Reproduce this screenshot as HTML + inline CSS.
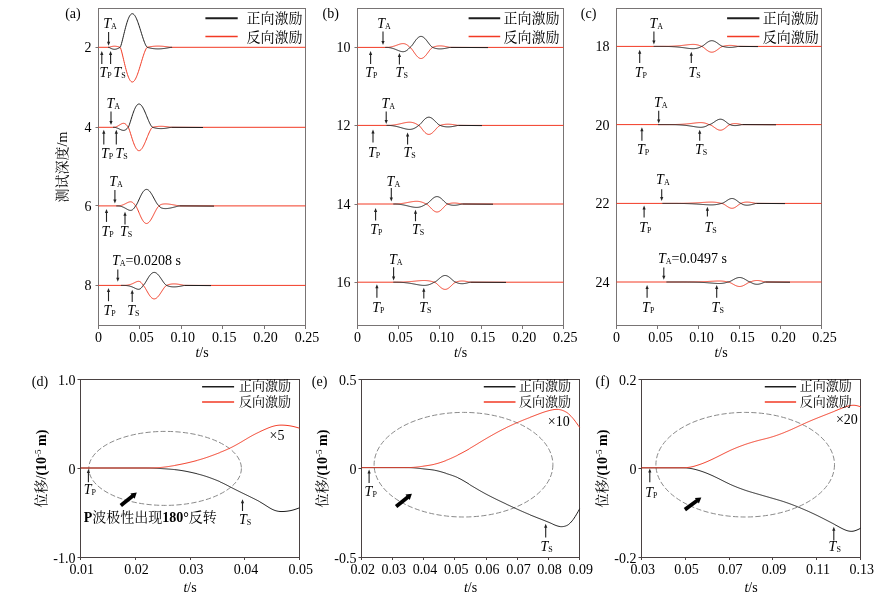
<!DOCTYPE html>
<html><head><meta charset="utf-8"><style>html,body{margin:0;padding:0;background:#fff;}svg{display:block;} svg{will-change:transform;opacity:0.999;}</style></head>
<body>
<svg width="886" height="603" viewBox="0 0 886 603">
<rect width="886" height="603" fill="#fff"/>
<text x="65.2" y="18.2" font-size="14" text-anchor="start" font-family="'Liberation Serif', 'Times New Roman', serif" >(a)</text>
<rect x="98.5" y="8.5" width="207" height="317" fill="none" stroke="#787474" stroke-width="1"/>
<line x1="98.5" y1="325.5" x2="98.5" y2="329" stroke="#787474" stroke-width="1" />
<text x="98.5" y="341.6" font-size="14" text-anchor="middle" font-family="'Liberation Serif', 'Times New Roman', serif" >0</text>
<line x1="139.5" y1="325.5" x2="139.5" y2="329" stroke="#787474" stroke-width="1" />
<text x="141.4" y="341.6" font-size="14" text-anchor="middle" font-family="'Liberation Serif', 'Times New Roman', serif" >0.05</text>
<line x1="181.5" y1="325.5" x2="181.5" y2="329" stroke="#787474" stroke-width="1" />
<text x="182.8" y="341.6" font-size="14" text-anchor="middle" font-family="'Liberation Serif', 'Times New Roman', serif" >0.10</text>
<line x1="222.5" y1="325.5" x2="222.5" y2="329" stroke="#787474" stroke-width="1" />
<text x="224.2" y="341.6" font-size="14" text-anchor="middle" font-family="'Liberation Serif', 'Times New Roman', serif" >0.15</text>
<line x1="264.5" y1="325.5" x2="264.5" y2="329" stroke="#787474" stroke-width="1" />
<text x="265.6" y="341.6" font-size="14" text-anchor="middle" font-family="'Liberation Serif', 'Times New Roman', serif" >0.20</text>
<line x1="305.5" y1="325.5" x2="305.5" y2="329" stroke="#787474" stroke-width="1" />
<text x="307" y="341.6" font-size="14" text-anchor="middle" font-family="'Liberation Serif', 'Times New Roman', serif" >0.25</text>
<text x="202" y="356.6" font-size="14" font-family="'Liberation Serif', 'Times New Roman', serif" text-anchor="middle"><tspan font-style="italic">t</tspan>/s</text>
<line x1="95.5" y1="47.5" x2="98.5" y2="47.5" stroke="#787474" stroke-width="1" />
<text x="91.5" y="52.3" font-size="14" text-anchor="end" font-family="'Liberation Serif', 'Times New Roman', serif" >2</text>
<line x1="95.5" y1="127.5" x2="98.5" y2="127.5" stroke="#787474" stroke-width="1" />
<text x="91.5" y="132.3" font-size="14" text-anchor="end" font-family="'Liberation Serif', 'Times New Roman', serif" >4</text>
<line x1="95.5" y1="205.5" x2="98.5" y2="205.5" stroke="#787474" stroke-width="1" />
<text x="91.5" y="210.9" font-size="14" text-anchor="end" font-family="'Liberation Serif', 'Times New Roman', serif" >6</text>
<line x1="95.5" y1="285.5" x2="98.5" y2="285.5" stroke="#787474" stroke-width="1" />
<text x="91.5" y="290.4" font-size="14" text-anchor="end" font-family="'Liberation Serif', 'Times New Roman', serif" >8</text>
<polyline points="98.5,47.3 108,47.3 108,47.3 108.5,47.3 109,47.3 109.5,47.13 110,46.98 110.5,46.83 111,46.69 111.5,46.57 112,46.46 112.5,46.37 113,46.3 113.5,46.24 114,46.21 114.5,46.2 115,46.21 115.5,46.24 116,46.29 116.5,46.36 117,46.45 117.5,46.56 118,46.68 118.5,46.81 119,46.95 119.5,47.09 120,47.24 120.5,47.88 121,49.35 121.5,51.1 122,53.02 122.5,55.05 123,57.14 123.5,59.27 124,61.39 124.5,63.49 125,65.54 125.5,67.53 126,69.44 126.5,71.25 127,72.95 127.5,74.53 128,75.97 128.5,77.27 129,78.42 129.5,79.42 130,80.26 130.5,80.94 131,81.45 131.5,81.79 132,81.97 132.5,81.99 133,81.84 133.5,81.54 134,81.09 134.5,80.49 135,79.75 135.5,78.87 136,77.88 136.5,76.76 137,75.55 137.5,74.23 138,72.83 138.5,71.36 139,69.82 139.5,68.23 140,66.6 140.5,64.95 141,63.29 141.5,61.62 142,59.96 142.5,58.34 143,56.75 143.5,55.22 144,53.75 144.5,52.37 145,51.09 145.5,49.93 146,48.92 146.5,48.08 147,47.48 147.5,47.24 148,47.13 148.5,47.02 149,46.93 149.5,46.84 150,46.75 150.5,46.67 151,46.6 151.5,46.53 152,46.47 152.5,46.41 153,46.35 153.5,46.31 154,46.26 154.5,46.22 155,46.19 155.5,46.16 156,46.14 156.5,46.12 157,46.11 157.5,46.1 158,46.1 158.5,46.1 159,46.11 159.5,46.12 160,46.14 160.5,46.16 161,46.18 161.5,46.21 162,46.25 162.5,46.28 163,46.33 163.5,46.37 164,46.42 164.5,46.47 165,46.52 165.5,46.58 166,46.64 166.5,46.7 167,46.76 167.5,46.82 168,46.89 168.5,46.96 169,47.02 169.5,47.09 170,47.16 170.5,47.23 171,47.3 171.5,47.3 172,47.3 305.5,47.3" fill="none" stroke="#f23a24" stroke-width="1.0" stroke-linejoin="round" />
<polyline points="108,47.3 108,47.3 108.5,47.3 109,47.3 109.5,47.6 110,47.89 110.5,48.16 111,48.41 111.5,48.63 112,48.83 112.5,48.99 113,49.13 113.5,49.22 114,49.28 114.5,49.3 115,49.28 115.5,49.22 116,49.13 116.5,49 117,48.84 117.5,48.65 118,48.43 118.5,48.2 119,47.95 119.5,47.68 120,47.41 120.5,46.74 121,45.32 121.5,43.62 122,41.76 122.5,39.8 123,37.77 123.5,35.71 124,33.66 124.5,31.62 125,29.63 125.5,27.71 126,25.86 126.5,24.11 127,22.46 127.5,20.94 128,19.54 128.5,18.28 129,17.16 129.5,16.2 130,15.38 130.5,14.73 131,14.24 131.5,13.9 132,13.73 132.5,13.71 133,13.85 133.5,14.14 134,14.58 134.5,15.16 135,15.88 135.5,16.73 136,17.69 136.5,18.77 137,19.95 137.5,21.22 138,22.58 138.5,24.01 139,25.5 139.5,27.03 140,28.61 140.5,30.21 141,31.82 141.5,33.44 142,35.04 142.5,36.61 143,38.15 143.5,39.63 144,41.05 144.5,42.39 145,43.63 145.5,44.75 146,45.73 146.5,46.54 147,47.13 147.5,47.38 148,47.53 148.5,47.67 149,47.8 149.5,47.92 150,48.03 150.5,48.13 151,48.23 151.5,48.32 152,48.41 152.5,48.49 153,48.56 153.5,48.63 154,48.68 154.5,48.73 155,48.78 155.5,48.82 156,48.85 156.5,48.87 157,48.89 157.5,48.9 158,48.9 158.5,48.9 159,48.89 159.5,48.87 160,48.85 160.5,48.82 161,48.79 161.5,48.75 162,48.7 162.5,48.65 163,48.6 163.5,48.54 164,48.48 164.5,48.41 165,48.34 165.5,48.26 166,48.19 166.5,48.1 167,48.02 167.5,47.94 168,47.85 168.5,47.76 169,47.67 169.5,47.58 170,47.48 170.5,47.39 171,47.3 171.5,47.3 172,47.3 172,47.5" fill="none" stroke="#1e1e1e" stroke-width="1.0" stroke-linejoin="round" />
<polyline points="98.5,127.3 113,127.3 113,127.3 113.5,127.3 114,127.3 114.5,127.26 115,127.17 115.5,127.04 116,126.87 116.5,126.67 117,126.45 117.5,126.19 118,125.92 118.5,125.62 119,125.31 119.5,125 120,124.69 120.5,124.39 121,124.1 121.5,123.84 122,123.62 122.5,123.45 123,123.34 123.5,123.3 124,123.34 124.5,123.47 125,123.7 125.5,124.03 126,124.45 126.5,124.98 127,125.58 127.5,126.26 128,127 128.5,127.78 129,128.95 129.5,130.34 130,131.85 130.5,133.43 131,135.03 131.5,136.64 132,138.23 132.5,139.78 133,141.27 133.5,142.69 134,144.01 134.5,145.24 135,146.36 135.5,147.37 136,148.24 136.5,148.99 137,149.61 137.5,150.09 138,150.43 138.5,150.63 139,150.7 139.5,150.63 140,150.44 140.5,150.11 141,149.67 141.5,149.11 142,148.44 142.5,147.67 143,146.81 143.5,145.86 144,144.84 144.5,143.76 145,142.63 145.5,141.45 146,140.24 146.5,139.01 147,137.77 147.5,136.53 148,135.31 148.5,134.12 149,132.96 149.5,131.86 150,130.83 150.5,129.87 151,129.02 151.5,128.28 152,127.69 152.5,127.33 153,127.19 153.5,127.08 154,126.98 154.5,126.89 155,126.8 155.5,126.72 156,126.65 156.5,126.58 157,126.52 157.5,126.47 158,126.43 158.5,126.39 159,126.36 159.5,126.33 160,126.31 160.5,126.3 161,126.3 161.5,126.3 162,126.31 162.5,126.33 163,126.35 163.5,126.38 164,126.42 164.5,126.46 165,126.5 165.5,126.55 166,126.61 166.5,126.66 167,126.73 167.5,126.79 168,126.86 168.5,126.93 169,127 169.5,127.07 170,127.15 170.5,127.22 171,127.3 171.5,127.3 172,127.3 305.5,127.3" fill="none" stroke="#f23a24" stroke-width="1.0" stroke-linejoin="round" />
<polyline points="113,127.3 113,127.3 113.5,127.3 114,127.3 114.5,127.33 115,127.4 115.5,127.5 116,127.63 116.5,127.79 117,127.96 117.5,128.16 118,128.37 118.5,128.6 119,128.84 119.5,129.08 120,129.32 120.5,129.56 121,129.78 121.5,129.98 122,130.15 122.5,130.28 123,130.37 123.5,130.4 124,130.37 124.5,130.27 125,130.09 125.5,129.84 126,129.51 126.5,129.1 127,128.63 127.5,128.1 128,127.54 128.5,126.83 129,125.65 129.5,124.27 130,122.77 130.5,121.2 131,119.6 131.5,118 132,116.41 132.5,114.87 133,113.39 133.5,111.98 134,110.66 134.5,109.43 135,108.32 135.5,107.32 136,106.45 136.5,105.7 137,105.09 137.5,104.61 138,104.27 138.5,104.07 139,104 139.5,104.07 140,104.26 140.5,104.59 141,105.03 141.5,105.59 142,106.25 142.5,107.02 143,107.88 143.5,108.82 144,109.83 144.5,110.91 145,112.04 145.5,113.21 146,114.42 146.5,115.64 147,116.88 147.5,118.11 148,119.32 148.5,120.51 149,121.66 149.5,122.76 150,123.79 150.5,124.74 151,125.59 151.5,126.32 152,126.91 152.5,127.27 153,127.44 153.5,127.58 154,127.71 154.5,127.83 155,127.94 155.5,128.05 156,128.14 156.5,128.23 157,128.31 157.5,128.38 158,128.44 158.5,128.49 159,128.53 159.5,128.56 160,128.58 160.5,128.6 161,128.6 161.5,128.6 162,128.58 162.5,128.56 163,128.53 163.5,128.49 164,128.45 164.5,128.4 165,128.34 165.5,128.27 166,128.2 166.5,128.13 167,128.05 167.5,127.96 168,127.87 168.5,127.78 169,127.69 169.5,127.59 170,127.5 170.5,127.4 171,127.3 171.5,127.3 172,127.3 203,127.5" fill="none" stroke="#1e1e1e" stroke-width="1.0" stroke-linejoin="round" />
<polyline points="98.5,205.9 116.3,205.9 116.3,205.9 116.8,205.9 117.3,205.9 117.8,205.89 118.3,205.87 118.8,205.84 119.3,205.78 119.8,205.71 120.3,205.62 120.8,205.52 121.3,205.39 121.8,205.25 122.3,205.08 122.8,204.9 123.3,204.71 123.8,204.5 124.3,204.27 124.8,204.03 125.3,203.78 125.8,203.53 126.3,203.27 126.8,203.01 127.3,202.76 127.8,202.53 128.3,202.31 128.8,202.12 129.3,201.97 129.8,201.86 130.3,201.81 130.8,201.81 131.3,201.89 131.8,202.04 132.3,202.28 132.8,202.61 133.3,203.02 133.8,203.52 134.3,204.1 134.8,204.75 135.3,205.46 135.8,206.06 136.3,206.77 136.8,207.69 137.3,208.72 137.8,209.83 138.3,210.98 138.8,212.16 139.3,213.35 139.8,214.52 140.3,215.67 140.8,216.77 141.3,217.82 141.8,218.8 142.3,219.71 142.8,220.53 143.3,221.27 143.8,221.9 144.3,222.44 144.8,222.86 145.3,223.18 145.8,223.39 146.3,223.49 146.8,223.48 147.3,223.36 147.8,223.14 148.3,222.81 148.8,222.39 149.3,221.88 149.8,221.28 150.3,220.6 150.8,219.85 151.3,219.03 151.8,218.17 152.3,217.25 152.8,216.31 153.3,215.33 153.8,214.34 154.3,213.35 154.8,212.36 155.3,211.39 155.8,210.44 156.3,209.54 156.8,208.69 157.3,207.91 157.8,207.21 158.3,206.62 158.8,206.15 159.3,205.9 159.8,205.2 160.3,204.87 160.8,204.63 161.3,204.45 161.8,204.3 162.3,204.18 162.8,204.09 163.3,204.02 163.8,203.97 164.3,203.93 164.8,203.91 165.3,203.9 165.8,203.9 166.3,203.92 166.8,203.94 167.3,203.97 167.8,204.01 168.3,204.06 168.8,204.12 169.3,204.18 169.8,204.24 170.3,204.31 170.8,204.39 171.3,204.47 171.8,204.55 172.3,204.64 172.8,204.72 173.3,204.81 173.8,204.91 174.3,205 174.8,205.09 175.3,205.19 175.8,205.28 176.3,205.38 176.8,205.48 177.3,205.57 177.8,205.67 178.3,205.77 178.8,205.86 179.3,205.9 179.8,205.9 305.5,205.9" fill="none" stroke="#f23a24" stroke-width="1.0" stroke-linejoin="round" />
<polyline points="116.3,205.9 116.3,205.9 116.8,205.9 117.3,205.9 117.8,205.91 118.3,205.93 118.8,205.97 119.3,206.03 119.8,206.11 120.3,206.2 120.8,206.32 121.3,206.46 121.8,206.62 122.3,206.8 122.8,206.99 123.3,207.21 123.8,207.44 124.3,207.69 124.8,207.95 125.3,208.22 125.8,208.5 126.3,208.79 126.8,209.07 127.3,209.34 127.8,209.6 128.3,209.84 128.8,210.05 129.3,210.22 129.8,210.33 130.3,210.39 130.8,210.39 131.3,210.3 131.8,210.13 132.3,209.87 132.8,209.52 133.3,209.06 133.8,208.51 134.3,207.88 134.8,207.16 135.3,206.39 135.8,205.75 136.3,205.08 136.8,204.23 137.3,203.26 137.8,202.22 138.3,201.14 138.8,200.03 139.3,198.92 139.8,197.82 140.3,196.74 140.8,195.71 141.3,194.72 141.8,193.8 142.3,192.95 142.8,192.18 143.3,191.49 143.8,190.9 144.3,190.4 144.8,190 145.3,189.7 145.8,189.5 146.3,189.41 146.8,189.42 147.3,189.53 147.8,189.74 148.3,190.04 148.8,190.44 149.3,190.92 149.8,191.49 150.3,192.12 150.8,192.83 151.3,193.59 151.8,194.4 152.3,195.26 152.8,196.14 153.3,197.06 153.8,197.99 154.3,198.92 154.8,199.84 155.3,200.76 155.8,201.64 156.3,202.49 156.8,203.28 157.3,204.01 157.8,204.67 158.3,205.23 158.8,205.66 159.3,205.9 159.8,206.85 160.3,207.29 160.8,207.61 161.3,207.86 161.8,208.06 162.3,208.22 162.8,208.34 163.3,208.44 163.8,208.51 164.3,208.56 164.8,208.59 165.3,208.6 165.8,208.6 166.3,208.58 166.8,208.54 167.3,208.5 167.8,208.45 168.3,208.38 168.8,208.31 169.3,208.23 169.8,208.14 170.3,208.04 170.8,207.94 171.3,207.83 171.8,207.72 172.3,207.61 172.8,207.49 173.3,207.37 173.8,207.24 174.3,207.12 174.8,206.99 175.3,206.86 175.8,206.73 176.3,206.6 176.8,206.47 177.3,206.34 177.8,206.21 178.3,206.08 178.8,205.95 179.3,205.9 179.8,205.9 214,206.1" fill="none" stroke="#1e1e1e" stroke-width="1.0" stroke-linejoin="round" />
<polyline points="98.5,285.4 121,285.4 121,285.4 121.5,285.4 122,285.4 122.5,285.4 123,285.4 123.5,285.39 124,285.38 124.5,285.37 125,285.35 125.5,285.32 126,285.28 126.5,285.23 127,285.18 127.5,285.11 128,285.03 128.5,284.93 129,284.83 129.5,284.71 130,284.57 130.5,284.42 131,284.25 131.5,284.07 132,283.87 132.5,283.66 133,283.43 133.5,283.2 134,282.95 134.5,282.7 135,282.45 135.5,282.21 136,281.98 136.5,281.76 137,281.58 137.5,281.43 138,281.33 138.5,281.3 139,281.34 139.5,281.46 140,281.68 140.5,282.01 141,282.45 141.5,283 142,283.65 142.5,284.4 143,285.23 143.5,285.68 144,286.24 144.5,286.93 145,287.71 145.5,288.54 146,289.4 146.5,290.29 147,291.18 147.5,292.06 148,292.92 148.5,293.76 149,294.55 149.5,295.3 150,295.99 150.5,296.62 151,297.18 151.5,297.67 152,298.08 152.5,298.41 153,298.66 153.5,298.82 154,298.89 154.5,298.88 155,298.79 155.5,298.62 156,298.36 156.5,298.04 157,297.63 157.5,297.16 158,296.63 158.5,296.05 159,295.41 159.5,294.73 160,294.02 160.5,293.28 161,292.51 161.5,291.74 162,290.96 162.5,290.19 163,289.44 163.5,288.71 164,288.01 164.5,287.36 165,286.76 165.5,286.24 166,285.81 166.5,285.49 167,285.25 167.5,285.02 168,284.83 168.5,284.66 169,284.52 169.5,284.4 170,284.29 170.5,284.19 171,284.11 171.5,284.04 172,283.99 172.5,283.95 173,283.92 173.5,283.91 174,283.9 174.5,283.91 175,283.92 175.5,283.95 176,283.98 176.5,284.02 177,284.07 177.5,284.13 178,284.2 178.5,284.27 179,284.35 179.5,284.43 180,284.52 180.5,284.61 181,284.7 181.5,284.8 182,284.9 182.5,285.01 183,285.11 183.5,285.21 184,285.32 184.5,285.4 185,285.4 305.5,285.4" fill="none" stroke="#f23a24" stroke-width="1.0" stroke-linejoin="round" />
<polyline points="121,285.4 121,285.4 121.5,285.4 122,285.4 122.5,285.4 123,285.4 123.5,285.41 124,285.42 124.5,285.43 125,285.45 125.5,285.48 126,285.51 126.5,285.56 127,285.61 127.5,285.68 128,285.75 128.5,285.84 129,285.94 129.5,286.06 130,286.19 130.5,286.34 131,286.49 131.5,286.67 132,286.86 132.5,287.06 133,287.27 133.5,287.5 134,287.73 134.5,287.97 135,288.2 135.5,288.44 136,288.66 136.5,288.86 137,289.04 137.5,289.18 138,289.27 138.5,289.3 139,289.26 139.5,289.14 140,288.93 140.5,288.62 141,288.21 141.5,287.69 142,287.06 142.5,286.35 143,285.56 143.5,285.13 144,284.59 144.5,283.92 145,283.18 145.5,282.38 146,281.55 146.5,280.69 147,279.84 147.5,278.99 148,278.15 148.5,277.35 149,276.59 149.5,275.87 150,275.2 150.5,274.59 151,274.05 151.5,273.58 152,273.19 152.5,272.87 153,272.64 153.5,272.48 154,272.41 154.5,272.41 155,272.5 155.5,272.67 156,272.92 156.5,273.23 157,273.62 157.5,274.07 158,274.58 158.5,275.15 159,275.76 159.5,276.41 160,277.1 160.5,277.82 161,278.55 161.5,279.29 162,280.04 162.5,280.78 163,281.51 163.5,282.22 164,282.89 164.5,283.51 165,284.09 165.5,284.59 166,285.01 166.5,285.31 167,285.55 167.5,285.78 168,285.97 168.5,286.14 169,286.28 169.5,286.4 170,286.51 170.5,286.61 171,286.69 171.5,286.76 172,286.81 172.5,286.85 173,286.88 173.5,286.89 174,286.9 174.5,286.89 175,286.88 175.5,286.85 176,286.82 176.5,286.78 177,286.73 177.5,286.67 178,286.6 178.5,286.53 179,286.45 179.5,286.37 180,286.28 180.5,286.19 181,286.1 181.5,286 182,285.9 182.5,285.79 183,285.69 183.5,285.59 184,285.48 184.5,285.4 185,285.4 211,285.6" fill="none" stroke="#1e1e1e" stroke-width="1.0" stroke-linejoin="round" />
<text x="103.2" y="27.5" font-size="14" font-family="'Liberation Serif', 'Times New Roman', serif" text-anchor="start"><tspan font-style="italic">T</tspan><tspan font-size="8" dy="1">A</tspan><tspan dy="-1"></tspan></text>
<line x1="108.6" y1="32.1" x2="108.6" y2="42.6" stroke="#222" stroke-width="1.1" />
<polygon points="108.6,45.8 107,41.8 110.2,41.8" fill="#222"/>
<line x1="101.8" y1="64" x2="101.8" y2="54.2" stroke="#222" stroke-width="1.1" />
<polygon points="101.8,51 100.2,55 103.4,55" fill="#222"/>
<text x="99.5" y="76.7" font-size="14" font-family="'Liberation Serif', 'Times New Roman', serif" text-anchor="start"><tspan font-style="italic">T</tspan><tspan font-size="8" dy="1">P</tspan><tspan dy="-1"></tspan></text>
<line x1="110.6" y1="64" x2="110.6" y2="54.2" stroke="#222" stroke-width="1.1" />
<polygon points="110.6,51 109,55 112.2,55" fill="#222"/>
<text x="113.5" y="76.7" font-size="14" font-family="'Liberation Serif', 'Times New Roman', serif" text-anchor="start"><tspan font-style="italic">T</tspan><tspan font-size="8" dy="1">S</tspan><tspan dy="-1"></tspan></text>
<text x="106.5" y="107.5" font-size="14" font-family="'Liberation Serif', 'Times New Roman', serif" text-anchor="start"><tspan font-style="italic">T</tspan><tspan font-size="8" dy="1">A</tspan><tspan dy="-1"></tspan></text>
<line x1="111" y1="111.4" x2="111" y2="121.8" stroke="#222" stroke-width="1.1" />
<polygon points="111,125 109.4,121 112.6,121" fill="#222"/>
<line x1="103.8" y1="144.6" x2="103.8" y2="132.9" stroke="#222" stroke-width="1.1" />
<polygon points="103.8,129.7 102.2,133.7 105.4,133.7" fill="#222"/>
<text x="101" y="157.7" font-size="14" font-family="'Liberation Serif', 'Times New Roman', serif" text-anchor="start"><tspan font-style="italic">T</tspan><tspan font-size="8" dy="1">P</tspan><tspan dy="-1"></tspan></text>
<line x1="116.3" y1="144.6" x2="116.3" y2="132.9" stroke="#222" stroke-width="1.1" />
<polygon points="116.3,129.7 114.7,133.7 117.9,133.7" fill="#222"/>
<text x="115.5" y="157.7" font-size="14" font-family="'Liberation Serif', 'Times New Roman', serif" text-anchor="start"><tspan font-style="italic">T</tspan><tspan font-size="8" dy="1">S</tspan><tspan dy="-1"></tspan></text>
<text x="109.2" y="185.5" font-size="14" font-family="'Liberation Serif', 'Times New Roman', serif" text-anchor="start"><tspan font-style="italic">T</tspan><tspan font-size="8" dy="1">A</tspan><tspan dy="-1"></tspan></text>
<line x1="114.9" y1="190" x2="114.9" y2="200.4" stroke="#222" stroke-width="1.1" />
<polygon points="114.9,203.6 113.3,199.6 116.5,199.6" fill="#222"/>
<line x1="106.5" y1="221.9" x2="106.5" y2="212.2" stroke="#222" stroke-width="1.1" />
<polygon points="106.5,209 104.9,213 108.1,213" fill="#222"/>
<text x="101.5" y="236.2" font-size="14" font-family="'Liberation Serif', 'Times New Roman', serif" text-anchor="start"><tspan font-style="italic">T</tspan><tspan font-size="8" dy="1">P</tspan><tspan dy="-1"></tspan></text>
<line x1="125" y1="224.6" x2="125" y2="214.9" stroke="#222" stroke-width="1.1" />
<polygon points="125,211.7 123.4,215.7 126.6,215.7" fill="#222"/>
<text x="120" y="236.2" font-size="14" font-family="'Liberation Serif', 'Times New Roman', serif" text-anchor="start"><tspan font-style="italic">T</tspan><tspan font-size="8" dy="1">S</tspan><tspan dy="-1"></tspan></text>
<text x="112" y="264.8" font-size="14" font-family="'Liberation Serif', 'Times New Roman', serif" text-anchor="start"><tspan font-style="italic">T</tspan><tspan font-size="8" dy="1">A</tspan><tspan dy="-1">=0.0208 s</tspan></text>
<line x1="117.8" y1="269.4" x2="117.8" y2="278.6" stroke="#222" stroke-width="1.1" />
<polygon points="117.8,281.8 116.2,277.8 119.4,277.8" fill="#222"/>
<line x1="108.5" y1="301.2" x2="108.5" y2="291.3" stroke="#222" stroke-width="1.1" />
<polygon points="108.5,288.1 106.9,292.1 110.1,292.1" fill="#222"/>
<text x="103.4" y="315.2" font-size="14" font-family="'Liberation Serif', 'Times New Roman', serif" text-anchor="start"><tspan font-style="italic">T</tspan><tspan font-size="8" dy="1">P</tspan><tspan dy="-1"></tspan></text>
<line x1="132.2" y1="301.9" x2="132.2" y2="292.9" stroke="#222" stroke-width="1.1" />
<polygon points="132.2,289.7 130.6,293.7 133.8,293.7" fill="#222"/>
<text x="127.2" y="315.2" font-size="14" font-family="'Liberation Serif', 'Times New Roman', serif" text-anchor="start"><tspan font-style="italic">T</tspan><tspan font-size="8" dy="1">S</tspan><tspan dy="-1"></tspan></text>
<line x1="205.4" y1="18.2" x2="237.7" y2="18.2" stroke="#1e1e1e" stroke-width="2" />
<line x1="205.4" y1="36.5" x2="237.7" y2="36.5" stroke="#f23a24" stroke-width="1.3" />
<text x="246.5" y="22.9" font-size="14" text-anchor="start" font-family="'Liberation Serif', 'Noto Serif CJK SC', serif" >正向激励</text>
<text x="246.5" y="42" font-size="14" text-anchor="start" font-family="'Liberation Serif', 'Noto Serif CJK SC', serif" >反向激励</text>
<text x="322.6" y="18.2" font-size="14" text-anchor="start" font-family="'Liberation Serif', 'Times New Roman', serif" >(b)</text>
<rect x="357.5" y="8.5" width="206" height="317" fill="none" stroke="#787474" stroke-width="1"/>
<line x1="357.5" y1="325.5" x2="357.5" y2="329" stroke="#787474" stroke-width="1" />
<text x="357.5" y="341.6" font-size="14" text-anchor="middle" font-family="'Liberation Serif', 'Times New Roman', serif" >0</text>
<line x1="398.5" y1="325.5" x2="398.5" y2="329" stroke="#787474" stroke-width="1" />
<text x="400.5" y="341.6" font-size="14" text-anchor="middle" font-family="'Liberation Serif', 'Times New Roman', serif" >0.05</text>
<line x1="439.5" y1="325.5" x2="439.5" y2="329" stroke="#787474" stroke-width="1" />
<text x="441.7" y="341.6" font-size="14" text-anchor="middle" font-family="'Liberation Serif', 'Times New Roman', serif" >0.10</text>
<line x1="481.5" y1="325.5" x2="481.5" y2="329" stroke="#787474" stroke-width="1" />
<text x="482.9" y="341.6" font-size="14" text-anchor="middle" font-family="'Liberation Serif', 'Times New Roman', serif" >0.15</text>
<line x1="522.5" y1="325.5" x2="522.5" y2="329" stroke="#787474" stroke-width="1" />
<text x="524.1" y="341.6" font-size="14" text-anchor="middle" font-family="'Liberation Serif', 'Times New Roman', serif" >0.20</text>
<line x1="563.5" y1="325.5" x2="563.5" y2="329" stroke="#787474" stroke-width="1" />
<text x="565.3" y="341.6" font-size="14" text-anchor="middle" font-family="'Liberation Serif', 'Times New Roman', serif" >0.25</text>
<text x="460.5" y="356.6" font-size="14" font-family="'Liberation Serif', 'Times New Roman', serif" text-anchor="middle"><tspan font-style="italic">t</tspan>/s</text>
<line x1="354.5" y1="47.5" x2="357.5" y2="47.5" stroke="#787474" stroke-width="1" />
<text x="350.5" y="52.4" font-size="14" text-anchor="end" font-family="'Liberation Serif', 'Times New Roman', serif" >10</text>
<line x1="354.5" y1="125.5" x2="357.5" y2="125.5" stroke="#787474" stroke-width="1" />
<text x="350.5" y="130.4" font-size="14" text-anchor="end" font-family="'Liberation Serif', 'Times New Roman', serif" >12</text>
<line x1="354.5" y1="204.5" x2="357.5" y2="204.5" stroke="#787474" stroke-width="1" />
<text x="350.5" y="209" font-size="14" text-anchor="end" font-family="'Liberation Serif', 'Times New Roman', serif" >14</text>
<line x1="354.5" y1="282.5" x2="357.5" y2="282.5" stroke="#787474" stroke-width="1" />
<text x="350.5" y="287.2" font-size="14" text-anchor="end" font-family="'Liberation Serif', 'Times New Roman', serif" >16</text>
<polyline points="357.5,47.4 385.2,47.4 385.2,47.4 385.7,47.4 386.2,47.4 386.7,47.39 387.2,47.38 387.7,47.35 388.2,47.32 388.7,47.27 389.2,47.21 389.7,47.15 390.2,47.07 390.7,46.98 391.2,46.88 391.7,46.77 392.2,46.65 392.7,46.53 393.2,46.39 393.7,46.24 394.2,46.09 394.7,45.93 395.2,45.76 395.7,45.58 396.2,45.41 396.7,45.22 397.2,45.04 397.7,44.86 398.2,44.68 398.7,44.51 399.2,44.34 399.7,44.18 400.2,44.03 400.7,43.9 401.2,43.79 401.7,43.7 402.2,43.64 402.7,43.61 403.2,43.6 403.7,43.63 404.2,43.7 404.7,43.81 405.2,43.97 405.7,44.16 406.2,44.4 406.7,44.68 407.2,45.01 407.7,45.38 408.2,45.79 408.7,46.23 409.2,46.7 409.7,47.2 410.2,47.53 410.7,47.91 411.2,48.41 411.7,49 412.2,49.64 412.7,50.33 413.2,51.04 413.7,51.76 414.2,52.49 414.7,53.22 415.2,53.92 415.7,54.6 416.2,55.24 416.7,55.85 417.2,56.4 417.7,56.9 418.2,57.34 418.7,57.71 419.2,58.01 419.7,58.25 420.2,58.4 420.7,58.49 421.2,58.49 421.7,58.43 422.2,58.28 422.7,58.07 423.2,57.79 423.7,57.44 424.2,57.03 424.7,56.57 425.2,56.05 425.7,55.49 426.2,54.89 426.7,54.26 427.2,53.6 427.7,52.93 428.2,52.25 428.7,51.58 429.2,50.91 429.7,50.26 430.2,49.65 430.7,49.07 431.2,48.54 431.7,48.08 432.2,47.7 432.7,47.45 433.2,47.21 433.7,46.99 434.2,46.81 434.7,46.65 435.2,46.51 435.7,46.38 436.2,46.27 436.7,46.18 437.2,46.1 437.7,46.03 438.2,45.98 438.7,45.94 439.2,45.92 439.7,45.9 440.2,45.9 440.7,45.91 441.2,45.93 441.7,45.96 442.2,46.01 442.7,46.06 443.2,46.12 443.7,46.18 444.2,46.26 444.7,46.34 445.2,46.43 445.7,46.52 446.2,46.62 446.7,46.72 447.2,46.83 447.7,46.93 448.2,47.04 448.7,47.15 449.2,47.27 449.7,47.38 450.2,47.4 450.7,47.4 563.5,47.4" fill="none" stroke="#f23a24" stroke-width="1.0" stroke-linejoin="round" />
<polyline points="385.2,47.4 385.2,47.4 385.7,47.4 386.2,47.4 386.7,47.41 387.2,47.42 387.7,47.45 388.2,47.49 388.7,47.55 389.2,47.61 389.7,47.69 390.2,47.77 390.7,47.87 391.2,47.99 391.7,48.11 392.2,48.24 392.7,48.39 393.2,48.54 393.7,48.71 394.2,48.88 394.7,49.07 395.2,49.26 395.7,49.45 396.2,49.66 396.7,49.86 397.2,50.07 397.7,50.27 398.2,50.48 398.7,50.68 399.2,50.87 399.7,51.04 400.2,51.21 400.7,51.36 401.2,51.48 401.7,51.58 402.2,51.65 402.7,51.69 403.2,51.7 403.7,51.66 404.2,51.58 404.7,51.46 405.2,51.29 405.7,51.07 406.2,50.79 406.7,50.47 407.2,50.1 407.7,49.68 408.2,49.22 408.7,48.72 409.2,48.19 409.7,47.63 410.2,47.27 410.7,46.89 411.2,46.4 411.7,45.82 412.2,45.18 412.7,44.5 413.2,43.8 413.7,43.08 414.2,42.35 414.7,41.64 415.2,40.94 415.7,40.26 416.2,39.63 416.7,39.03 417.2,38.48 417.7,37.99 418.2,37.55 418.7,37.18 419.2,36.88 419.7,36.65 420.2,36.5 420.7,36.41 421.2,36.41 421.7,36.47 422.2,36.61 422.7,36.82 423.2,37.1 423.7,37.45 424.2,37.85 424.7,38.32 425.2,38.83 425.7,39.38 426.2,39.98 426.7,40.6 427.2,41.25 427.7,41.92 428.2,42.59 428.7,43.26 429.2,43.92 429.7,44.56 430.2,45.17 430.7,45.75 431.2,46.27 431.7,46.73 432.2,47.1 432.7,47.35 433.2,47.59 433.7,47.81 434.2,47.99 434.7,48.15 435.2,48.29 435.7,48.42 436.2,48.53 436.7,48.62 437.2,48.7 437.7,48.77 438.2,48.82 438.7,48.86 439.2,48.88 439.7,48.9 440.2,48.9 440.7,48.89 441.2,48.87 441.7,48.84 442.2,48.79 442.7,48.74 443.2,48.68 443.7,48.62 444.2,48.54 444.7,48.46 445.2,48.37 445.7,48.28 446.2,48.18 446.7,48.08 447.2,47.97 447.7,47.87 448.2,47.76 448.7,47.65 449.2,47.53 449.7,47.42 450.2,47.4 450.7,47.4 488,47.6" fill="none" stroke="#1e1e1e" stroke-width="1.0" stroke-linejoin="round" />
<polyline points="357.5,125.4 386.5,125.4 386.5,125.4 387,125.4 387.5,125.4 388,125.4 388.5,125.39 389,125.38 389.5,125.36 390,125.33 390.5,125.3 391,125.27 391.5,125.23 392,125.18 392.5,125.13 393,125.08 393.5,125.02 394,124.95 394.5,124.88 395,124.81 395.5,124.73 396,124.65 396.5,124.56 397,124.46 397.5,124.37 398,124.27 398.5,124.16 399,124.06 399.5,123.95 400,123.83 400.5,123.72 401,123.6 401.5,123.49 402,123.37 402.5,123.25 403,123.14 403.5,123.03 404,122.92 404.5,122.81 405,122.71 405.5,122.62 406,122.53 406.5,122.45 407,122.38 407.5,122.32 408,122.27 408.5,122.23 409,122.21 409.5,122.2 410,122.21 410.5,122.23 411,122.28 411.5,122.34 412,122.42 412.5,122.52 413,122.65 413.5,122.79 414,122.96 414.5,123.14 415,123.35 415.5,123.57 416,123.82 416.5,124.08 417,124.36 417.5,124.65 418,124.96 418.5,125.27 419,125.54 419.5,125.95 420,126.46 420.5,127.03 421,127.65 421.5,128.29 422,128.94 422.5,129.59 423,130.23 423.5,130.85 424,131.43 424.5,131.98 425,132.49 425.5,132.94 426,133.34 426.5,133.68 427,133.96 427.5,134.17 428,134.31 428.5,134.39 429,134.39 429.5,134.33 430,134.21 430.5,134.02 431,133.77 431.5,133.46 432,133.1 432.5,132.69 433,132.24 433.5,131.76 434,131.24 434.5,130.7 435,130.15 435.5,129.58 436,129.02 436.5,128.45 437,127.91 437.5,127.38 438,126.89 438.5,126.44 439,126.04 439.5,125.71 440,125.47 440.5,125.31 441,125.15 441.5,125.01 442,124.88 442.5,124.77 443,124.67 443.5,124.58 444,124.5 444.5,124.43 445,124.36 445.5,124.31 446,124.27 446.5,124.24 447,124.22 447.5,124.2 448,124.2 448.5,124.2 449,124.22 449.5,124.24 450,124.27 450.5,124.3 451,124.34 451.5,124.39 452,124.45 452.5,124.51 453,124.57 453.5,124.64 454,124.72 454.5,124.8 455,124.88 455.5,124.96 456,125.05 456.5,125.13 457,125.22 457.5,125.31 458,125.4 458.5,125.4 459,125.4 563.5,125.4" fill="none" stroke="#f23a24" stroke-width="1.0" stroke-linejoin="round" />
<polyline points="386.5,125.4 386.5,125.4 387,125.4 387.5,125.4 388,125.4 388.5,125.41 389,125.43 389.5,125.45 390,125.48 390.5,125.52 391,125.56 391.5,125.61 392,125.67 392.5,125.73 393,125.8 393.5,125.88 394,125.96 394.5,126.05 395,126.14 395.5,126.24 396,126.34 396.5,126.45 397,126.57 397.5,126.69 398,126.82 398.5,126.95 399,127.08 399.5,127.22 400,127.36 400.5,127.5 401,127.65 401.5,127.79 402,127.94 402.5,128.08 403,128.22 403.5,128.37 404,128.5 404.5,128.63 405,128.76 405.5,128.88 406,128.99 406.5,129.09 407,129.18 407.5,129.25 408,129.32 408.5,129.36 409,129.39 409.5,129.4 410,129.39 410.5,129.36 411,129.3 411.5,129.23 412,129.12 412.5,129 413,128.84 413.5,128.66 414,128.46 414.5,128.22 415,127.96 415.5,127.68 416,127.38 416.5,127.05 417,126.7 417.5,126.33 418,125.95 418.5,125.56 419,125.27 419.5,124.9 420,124.44 420.5,123.91 421,123.35 421.5,122.77 422,122.18 422.5,121.58 423,121 423.5,120.44 424,119.9 424.5,119.4 425,118.94 425.5,118.53 426,118.16 426.5,117.85 427,117.6 427.5,117.41 428,117.28 428.5,117.21 429,117.2 429.5,117.26 430,117.38 430.5,117.55 431,117.78 431.5,118.06 432,118.38 432.5,118.75 433,119.16 433.5,119.61 434,120.08 434.5,120.57 435,121.07 435.5,121.59 436,122.11 436.5,122.62 437,123.11 437.5,123.59 438,124.04 438.5,124.45 439,124.81 439.5,125.12 440,125.33 440.5,125.51 441,125.72 441.5,125.89 442,126.05 442.5,126.19 443,126.32 443.5,126.43 444,126.53 444.5,126.62 445,126.69 445.5,126.76 446,126.81 446.5,126.85 447,126.88 447.5,126.89 448,126.9 448.5,126.89 449,126.88 449.5,126.85 450,126.82 450.5,126.77 451,126.72 451.5,126.66 452,126.59 452.5,126.51 453,126.43 453.5,126.34 454,126.25 454.5,126.15 455,126.05 455.5,125.95 456,125.84 456.5,125.73 457,125.62 457.5,125.51 458,125.4 458.5,125.4 459,125.4 482,125.6" fill="none" stroke="#1e1e1e" stroke-width="1.0" stroke-linejoin="round" />
<polyline points="357.5,204 393.3,204 393.3,204 393.8,204 394.3,204 394.8,204 395.3,203.99 395.8,203.98 396.3,203.96 396.8,203.94 397.3,203.91 397.8,203.88 398.3,203.84 398.8,203.8 399.3,203.76 399.8,203.71 400.3,203.66 400.8,203.6 401.3,203.54 401.8,203.48 402.3,203.41 402.8,203.34 403.3,203.27 403.8,203.19 404.3,203.11 404.8,203.02 405.3,202.94 405.8,202.85 406.3,202.75 406.8,202.66 407.3,202.57 407.8,202.47 408.3,202.38 408.8,202.28 409.3,202.18 409.8,202.09 410.3,202 410.8,201.91 411.3,201.82 411.8,201.74 412.3,201.66 412.8,201.59 413.3,201.52 413.8,201.46 414.3,201.41 414.8,201.37 415.3,201.33 415.8,201.31 416.3,201.3 416.8,201.3 417.3,201.32 417.8,201.34 418.3,201.39 418.8,201.44 419.3,201.52 419.8,201.61 420.3,201.71 420.8,201.83 421.3,201.97 421.8,202.12 422.3,202.29 422.8,202.48 423.3,202.68 423.8,202.89 424.3,203.11 424.8,203.35 425.3,203.59 425.8,203.85 426.3,204.04 426.8,204.25 427.3,204.56 427.8,204.94 428.3,205.37 428.8,205.84 429.3,206.35 429.8,206.87 430.3,207.4 430.8,207.94 431.3,208.47 431.8,208.99 432.3,209.48 432.8,209.95 433.3,210.38 433.8,210.77 434.3,211.11 434.8,211.4 435.3,211.64 435.8,211.82 436.3,211.94 436.8,211.99 437.3,211.99 437.8,211.92 438.3,211.79 438.8,211.6 439.3,211.35 439.8,211.04 440.3,210.69 440.8,210.29 441.3,209.85 441.8,209.37 442.3,208.87 442.8,208.34 443.3,207.81 443.8,207.26 444.3,206.73 444.8,206.2 445.3,205.7 445.8,205.23 446.3,204.81 446.8,204.44 447.3,204.16 447.8,204 448.3,203.81 448.8,203.67 449.3,203.54 449.8,203.43 450.3,203.33 450.8,203.24 451.3,203.17 451.8,203.11 452.3,203.07 452.8,203.03 453.3,203.01 453.8,203 454.3,203 454.8,203.01 455.3,203.04 455.8,203.07 456.3,203.11 456.8,203.16 457.3,203.22 457.8,203.28 458.3,203.36 458.8,203.43 459.3,203.51 459.8,203.6 460.3,203.69 460.8,203.78 461.3,203.87 461.8,203.96 462.3,204 462.8,204 563.5,204" fill="none" stroke="#f23a24" stroke-width="1.0" stroke-linejoin="round" />
<polyline points="393.3,204 393.3,204 393.8,204 394.3,204 394.8,204 395.3,204.01 395.8,204.03 396.3,204.05 396.8,204.08 397.3,204.11 397.8,204.15 398.3,204.2 398.8,204.25 399.3,204.3 399.8,204.36 400.3,204.43 400.8,204.5 401.3,204.57 401.8,204.65 402.3,204.74 402.8,204.83 403.3,204.92 403.8,205.02 404.3,205.13 404.8,205.23 405.3,205.34 405.8,205.45 406.3,205.57 406.8,205.69 407.3,205.8 407.8,205.92 408.3,206.05 408.8,206.17 409.3,206.29 409.8,206.4 410.3,206.52 410.8,206.63 411.3,206.74 411.8,206.85 412.3,206.95 412.8,207.04 413.3,207.12 413.8,207.2 414.3,207.26 414.8,207.32 415.3,207.36 415.8,207.38 416.3,207.4 416.8,207.4 417.3,207.38 417.8,207.34 418.3,207.29 418.8,207.22 419.3,207.13 419.8,207.01 420.3,206.88 420.8,206.73 421.3,206.55 421.8,206.36 422.3,206.15 422.8,205.92 423.3,205.66 423.8,205.4 424.3,205.11 424.8,204.82 425.3,204.51 425.8,204.19 426.3,203.97 426.8,203.77 427.3,203.48 427.8,203.13 428.3,202.73 428.8,202.29 429.3,201.83 429.8,201.34 430.3,200.85 430.8,200.35 431.3,199.86 431.8,199.39 432.3,198.93 432.8,198.5 433.3,198.1 433.8,197.74 434.3,197.42 434.8,197.15 435.3,196.93 435.8,196.77 436.3,196.66 436.8,196.6 437.3,196.61 437.8,196.67 438.3,196.8 438.8,196.97 439.3,197.2 439.8,197.49 440.3,197.81 440.8,198.18 441.3,198.59 441.8,199.03 442.3,199.5 442.8,199.98 443.3,200.48 443.8,200.98 444.3,201.48 444.8,201.96 445.3,202.43 445.8,202.86 446.3,203.25 446.8,203.59 447.3,203.85 447.8,204 448.3,204.25 448.8,204.44 449.3,204.6 449.8,204.74 450.3,204.87 450.8,204.98 451.3,205.08 451.8,205.15 452.3,205.21 452.8,205.26 453.3,205.29 453.8,205.3 454.3,205.3 454.8,205.28 455.3,205.25 455.8,205.21 456.3,205.16 456.8,205.09 457.3,205.02 457.8,204.93 458.3,204.84 458.8,204.74 459.3,204.63 459.8,204.52 460.3,204.41 460.8,204.29 461.3,204.17 461.8,204.05 462.3,204 462.8,204 493,204.2" fill="none" stroke="#1e1e1e" stroke-width="1.0" stroke-linejoin="round" />
<polyline points="357.5,282.2 393.3,282.2 393.3,282.2 393.8,282.2 394.3,282.2 394.8,282.2 395.3,282.2 395.8,282.2 396.3,282.2 396.8,282.19 397.3,282.19 397.8,282.18 398.3,282.18 398.8,282.17 399.3,282.16 399.8,282.15 400.3,282.14 400.8,282.12 401.3,282.11 401.8,282.09 402.3,282.08 402.8,282.06 403.3,282.04 403.8,282.02 404.3,281.99 404.8,281.97 405.3,281.94 405.8,281.91 406.3,281.88 406.8,281.85 407.3,281.82 407.8,281.78 408.3,281.75 408.8,281.71 409.3,281.67 409.8,281.63 410.3,281.59 410.8,281.55 411.3,281.5 411.8,281.45 412.3,281.41 412.8,281.36 413.3,281.31 413.8,281.26 414.3,281.21 414.8,281.16 415.3,281.11 415.8,281.06 416.3,281.01 416.8,280.96 417.3,280.91 417.8,280.86 418.3,280.81 418.8,280.77 419.3,280.73 419.8,280.69 420.3,280.65 420.8,280.61 421.3,280.58 421.8,280.56 422.3,280.53 422.8,280.52 423.3,280.51 423.8,280.5 424.3,280.5 424.8,280.51 425.3,280.52 425.8,280.55 426.3,280.58 426.8,280.62 427.3,280.66 427.8,280.72 428.3,280.78 428.8,280.86 429.3,280.94 429.8,281.04 430.3,281.14 430.8,281.25 431.3,281.37 431.8,281.5 432.3,281.63 432.8,281.77 433.3,281.92 433.8,282.08 434.3,282.21 434.8,282.38 435.3,282.64 435.8,282.97 436.3,283.35 436.8,283.77 437.3,284.22 437.8,284.69 438.3,285.17 438.8,285.65 439.3,286.13 439.8,286.6 440.3,287.05 440.8,287.47 441.3,287.86 441.8,288.22 442.3,288.54 442.8,288.81 443.3,289.04 443.8,289.21 444.3,289.33 444.8,289.39 445.3,289.4 445.8,289.34 446.3,289.24 446.8,289.08 447.3,288.86 447.8,288.6 448.3,288.29 448.8,287.93 449.3,287.54 449.8,287.12 450.3,286.67 450.8,286.2 451.3,285.72 451.8,285.24 452.3,284.75 452.8,284.28 453.3,283.82 453.8,283.39 454.3,283 454.8,282.66 455.3,282.39 455.8,282.21 456.3,282 456.8,281.82 457.3,281.66 457.8,281.52 458.3,281.4 458.8,281.3 459.3,281.21 459.8,281.14 460.3,281.08 460.8,281.04 461.3,281.01 461.8,281 462.3,281 462.8,281.02 463.3,281.04 463.8,281.08 464.3,281.13 464.8,281.19 465.3,281.26 465.8,281.34 466.3,281.43 466.8,281.52 467.3,281.62 467.8,281.72 468.3,281.83 468.8,281.93 469.3,282.04 469.8,282.16 470.3,282.2 470.8,282.2 563.5,282.2" fill="none" stroke="#f23a24" stroke-width="1.0" stroke-linejoin="round" />
<polyline points="393.3,282.2 393.3,282.2 393.8,282.2 394.3,282.2 394.8,282.2 395.3,282.2 395.8,282.2 396.3,282.21 396.8,282.22 397.3,282.22 397.8,282.23 398.3,282.25 398.8,282.26 399.3,282.28 399.8,282.3 400.3,282.32 400.8,282.34 401.3,282.37 401.8,282.4 402.3,282.43 402.8,282.47 403.3,282.5 403.8,282.55 404.3,282.59 404.8,282.64 405.3,282.69 405.8,282.74 406.3,282.8 406.8,282.85 407.3,282.92 407.8,282.98 408.3,283.05 408.8,283.12 409.3,283.19 409.8,283.27 410.3,283.35 410.8,283.43 411.3,283.52 411.8,283.6 412.3,283.69 412.8,283.78 413.3,283.87 413.8,283.97 414.3,284.06 414.8,284.16 415.3,284.25 415.8,284.35 416.3,284.44 416.8,284.54 417.3,284.63 417.8,284.72 418.3,284.81 418.8,284.89 419.3,284.97 419.8,285.05 420.3,285.12 420.8,285.18 421.3,285.24 421.8,285.29 422.3,285.33 422.8,285.37 423.3,285.39 423.8,285.4 424.3,285.4 424.8,285.38 425.3,285.36 425.8,285.31 426.3,285.26 426.8,285.18 427.3,285.09 427.8,284.99 428.3,284.86 428.8,284.72 429.3,284.57 429.8,284.39 430.3,284.2 430.8,283.99 431.3,283.76 431.8,283.52 432.3,283.27 432.8,283 433.3,282.72 433.8,282.43 434.3,282.19 434.8,282.03 435.3,281.79 435.8,281.48 436.3,281.13 436.8,280.74 437.3,280.32 437.8,279.88 438.3,279.44 438.8,278.99 439.3,278.54 439.8,278.11 440.3,277.69 440.8,277.3 441.3,276.93 441.8,276.6 442.3,276.3 442.8,276.05 443.3,275.84 443.8,275.68 444.3,275.57 444.8,275.51 445.3,275.5 445.8,275.55 446.3,275.65 446.8,275.8 447.3,276 447.8,276.25 448.3,276.54 448.8,276.87 449.3,277.23 449.8,277.62 450.3,278.04 450.8,278.47 451.3,278.92 451.8,279.38 452.3,279.83 452.8,280.27 453.3,280.69 453.8,281.09 454.3,281.46 454.8,281.77 455.3,282.03 455.8,282.19 456.3,282.45 456.8,282.68 457.3,282.87 457.8,283.05 458.3,283.2 458.8,283.33 459.3,283.44 459.8,283.53 460.3,283.6 460.8,283.65 461.3,283.68 461.8,283.7 462.3,283.7 462.8,283.68 463.3,283.64 463.8,283.6 464.3,283.53 464.8,283.46 465.3,283.37 465.8,283.27 466.3,283.17 466.8,283.05 467.3,282.93 467.8,282.8 468.3,282.67 468.8,282.53 469.3,282.39 469.8,282.26 470.3,282.2 470.8,282.2 506,282.4" fill="none" stroke="#1e1e1e" stroke-width="1.0" stroke-linejoin="round" />
<text x="377.3" y="27.5" font-size="14" font-family="'Liberation Serif', 'Times New Roman', serif" text-anchor="start"><tspan font-style="italic">T</tspan><tspan font-size="8" dy="1">A</tspan><tspan dy="-1"></tspan></text>
<line x1="383" y1="31.4" x2="383" y2="41.8" stroke="#222" stroke-width="1.1" />
<polygon points="383,45 381.4,41 384.6,41" fill="#222"/>
<line x1="370.6" y1="63.9" x2="370.6" y2="54.2" stroke="#222" stroke-width="1.1" />
<polygon points="370.6,51 369,55 372.2,55" fill="#222"/>
<text x="365.2" y="76.7" font-size="14" font-family="'Liberation Serif', 'Times New Roman', serif" text-anchor="start"><tspan font-style="italic">T</tspan><tspan font-size="8" dy="1">P</tspan><tspan dy="-1"></tspan></text>
<line x1="399.4" y1="64.6" x2="399.4" y2="56.3" stroke="#222" stroke-width="1.1" />
<polygon points="399.4,53.1 397.8,57.1 401,57.1" fill="#222"/>
<text x="395.6" y="76.7" font-size="14" font-family="'Liberation Serif', 'Times New Roman', serif" text-anchor="start"><tspan font-style="italic">T</tspan><tspan font-size="8" dy="1">S</tspan><tspan dy="-1"></tspan></text>
<text x="381.4" y="107.5" font-size="14" font-family="'Liberation Serif', 'Times New Roman', serif" text-anchor="start"><tspan font-style="italic">T</tspan><tspan font-size="8" dy="1">A</tspan><tspan dy="-1"></tspan></text>
<line x1="386.2" y1="111.4" x2="386.2" y2="120.8" stroke="#222" stroke-width="1.1" />
<polygon points="386.2,124 384.6,120 387.8,120" fill="#222"/>
<line x1="373" y1="142.6" x2="373" y2="132.6" stroke="#222" stroke-width="1.1" />
<polygon points="373,129.4 371.4,133.4 374.6,133.4" fill="#222"/>
<text x="367.9" y="156.7" font-size="14" font-family="'Liberation Serif', 'Times New Roman', serif" text-anchor="start"><tspan font-style="italic">T</tspan><tspan font-size="8" dy="1">P</tspan><tspan dy="-1"></tspan></text>
<line x1="407.6" y1="144.6" x2="407.6" y2="135.6" stroke="#222" stroke-width="1.1" />
<polygon points="407.6,132.4 406,136.4 409.2,136.4" fill="#222"/>
<text x="403.5" y="156.7" font-size="14" font-family="'Liberation Serif', 'Times New Roman', serif" text-anchor="start"><tspan font-style="italic">T</tspan><tspan font-size="8" dy="1">S</tspan><tspan dy="-1"></tspan></text>
<text x="386.6" y="185.5" font-size="14" font-family="'Liberation Serif', 'Times New Roman', serif" text-anchor="start"><tspan font-style="italic">T</tspan><tspan font-size="8" dy="1">A</tspan><tspan dy="-1"></tspan></text>
<line x1="391.3" y1="188" x2="391.3" y2="198.4" stroke="#222" stroke-width="1.1" />
<polygon points="391.3,201.6 389.7,197.6 392.9,197.6" fill="#222"/>
<line x1="375.6" y1="220.5" x2="375.6" y2="211.2" stroke="#222" stroke-width="1.1" />
<polygon points="375.6,208 374,212 377.2,212" fill="#222"/>
<text x="370.2" y="233.7" font-size="14" font-family="'Liberation Serif', 'Times New Roman', serif" text-anchor="start"><tspan font-style="italic">T</tspan><tspan font-size="8" dy="1">P</tspan><tspan dy="-1"></tspan></text>
<line x1="415.5" y1="221.2" x2="415.5" y2="212.9" stroke="#222" stroke-width="1.1" />
<polygon points="415.5,209.7 413.9,213.7 417.1,213.7" fill="#222"/>
<text x="411.9" y="233.7" font-size="14" font-family="'Liberation Serif', 'Times New Roman', serif" text-anchor="start"><tspan font-style="italic">T</tspan><tspan font-size="8" dy="1">S</tspan><tspan dy="-1"></tspan></text>
<text x="388.9" y="264" font-size="14" font-family="'Liberation Serif', 'Times New Roman', serif" text-anchor="start"><tspan font-style="italic">T</tspan><tspan font-size="8" dy="1">A</tspan><tspan dy="-1"></tspan></text>
<line x1="393.6" y1="267.3" x2="393.6" y2="277.3" stroke="#222" stroke-width="1.1" />
<polygon points="393.6,280.5 392,276.5 395.2,276.5" fill="#222"/>
<line x1="376.9" y1="297.8" x2="376.9" y2="287.5" stroke="#222" stroke-width="1.1" />
<polygon points="376.9,284.3 375.3,288.3 378.5,288.3" fill="#222"/>
<text x="372.3" y="311.7" font-size="14" font-family="'Liberation Serif', 'Times New Roman', serif" text-anchor="start"><tspan font-style="italic">T</tspan><tspan font-size="8" dy="1">P</tspan><tspan dy="-1"></tspan></text>
<line x1="423.8" y1="298.5" x2="423.8" y2="290.9" stroke="#222" stroke-width="1.1" />
<polygon points="423.8,287.7 422.2,291.7 425.4,291.7" fill="#222"/>
<text x="419.3" y="311.7" font-size="14" font-family="'Liberation Serif', 'Times New Roman', serif" text-anchor="start"><tspan font-style="italic">T</tspan><tspan font-size="8" dy="1">S</tspan><tspan dy="-1"></tspan></text>
<line x1="468.6" y1="18.2" x2="500.2" y2="18.2" stroke="#1e1e1e" stroke-width="2" />
<line x1="468.6" y1="36.5" x2="500.2" y2="36.5" stroke="#f23a24" stroke-width="1.3" />
<text x="503.4" y="22.9" font-size="14" text-anchor="start" font-family="'Liberation Serif', 'Noto Serif CJK SC', serif" >正向激励</text>
<text x="503.4" y="42" font-size="14" text-anchor="start" font-family="'Liberation Serif', 'Noto Serif CJK SC', serif" >反向激励</text>
<text x="580.8" y="18.2" font-size="14" text-anchor="start" font-family="'Liberation Serif', 'Times New Roman', serif" >(c)</text>
<rect x="616.5" y="8.5" width="205" height="317" fill="none" stroke="#787474" stroke-width="1"/>
<line x1="616.5" y1="325.5" x2="616.5" y2="329" stroke="#787474" stroke-width="1" />
<text x="616.5" y="341.6" font-size="14" text-anchor="middle" font-family="'Liberation Serif', 'Times New Roman', serif" >0</text>
<line x1="657.5" y1="325.5" x2="657.5" y2="329" stroke="#787474" stroke-width="1" />
<text x="660.5" y="341.6" font-size="14" text-anchor="middle" font-family="'Liberation Serif', 'Times New Roman', serif" >0.05</text>
<line x1="698.5" y1="325.5" x2="698.5" y2="329" stroke="#787474" stroke-width="1" />
<text x="701.5" y="341.6" font-size="14" text-anchor="middle" font-family="'Liberation Serif', 'Times New Roman', serif" >0.10</text>
<line x1="739.5" y1="325.5" x2="739.5" y2="329" stroke="#787474" stroke-width="1" />
<text x="742.5" y="341.6" font-size="14" text-anchor="middle" font-family="'Liberation Serif', 'Times New Roman', serif" >0.15</text>
<line x1="780.5" y1="325.5" x2="780.5" y2="329" stroke="#787474" stroke-width="1" />
<text x="783.5" y="341.6" font-size="14" text-anchor="middle" font-family="'Liberation Serif', 'Times New Roman', serif" >0.20</text>
<line x1="821.5" y1="325.5" x2="821.5" y2="329" stroke="#787474" stroke-width="1" />
<text x="824.5" y="341.6" font-size="14" text-anchor="middle" font-family="'Liberation Serif', 'Times New Roman', serif" >0.25</text>
<text x="721" y="356.6" font-size="14" font-family="'Liberation Serif', 'Times New Roman', serif" text-anchor="middle"><tspan font-style="italic">t</tspan>/s</text>
<text x="609.5" y="51.4" font-size="14" text-anchor="end" font-family="'Liberation Serif', 'Times New Roman', serif" >18</text>
<text x="609.5" y="129.6" font-size="14" text-anchor="end" font-family="'Liberation Serif', 'Times New Roman', serif" >20</text>
<text x="609.5" y="208.4" font-size="14" text-anchor="end" font-family="'Liberation Serif', 'Times New Roman', serif" >22</text>
<text x="609.5" y="287" font-size="14" text-anchor="end" font-family="'Liberation Serif', 'Times New Roman', serif" >24</text>
<polyline points="616.5,46.4 653.6,46.4 653.6,46.4 654.1,46.4 654.6,46.4 655.1,46.4 655.6,46.4 656.1,46.4 656.6,46.4 657.1,46.4 657.6,46.4 658.1,46.4 658.6,46.4 659.1,46.4 659.6,46.4 660.1,46.4 660.6,46.39 661.1,46.39 661.6,46.39 662.1,46.39 662.6,46.39 663.1,46.38 663.6,46.38 664.1,46.37 664.6,46.37 665.1,46.36 665.6,46.36 666.1,46.35 666.6,46.34 667.1,46.33 667.6,46.32 668.1,46.31 668.6,46.3 669.1,46.29 669.6,46.28 670.1,46.26 670.6,46.24 671.1,46.23 671.6,46.21 672.1,46.19 672.6,46.17 673.1,46.14 673.6,46.12 674.1,46.09 674.6,46.07 675.1,46.04 675.6,46.01 676.1,45.97 676.6,45.94 677.1,45.9 677.6,45.87 678.1,45.83 678.6,45.78 679.1,45.74 679.6,45.69 680.1,45.65 680.6,45.6 681.1,45.55 681.6,45.5 682.1,45.44 682.6,45.39 683.1,45.33 683.6,45.27 684.1,45.21 684.6,45.15 685.1,45.09 685.6,45.03 686.1,44.97 686.6,44.91 687.1,44.85 687.6,44.79 688.1,44.74 688.6,44.68 689.1,44.63 689.6,44.58 690.1,44.54 690.6,44.5 691.1,44.46 691.6,44.44 692.1,44.42 692.6,44.4 693.1,44.4 693.6,44.41 694.1,44.43 694.6,44.46 695.1,44.5 695.6,44.55 696.1,44.63 696.6,44.71 697.1,44.81 697.6,44.93 698.1,45.06 698.6,45.21 699.1,45.38 699.6,45.56 700.1,45.75 700.6,45.96 701.1,46.17 701.6,46.4 702.1,46.56 702.6,46.83 703.1,47.15 703.6,47.51 704.1,47.9 704.6,48.31 705.1,48.72 705.6,49.13 706.1,49.54 706.6,49.94 707.1,50.32 707.6,50.67 708.1,50.99 708.6,51.29 709.1,51.54 709.6,51.76 710.1,51.94 710.6,52.07 711.1,52.16 711.6,52.2 712.1,52.19 712.6,52.14 713.1,52.05 713.6,51.91 714.1,51.73 714.6,51.52 715.1,51.27 715.6,50.98 716.1,50.67 716.6,50.34 717.1,49.99 717.6,49.62 718.1,49.24 718.6,48.87 719.1,48.49 719.6,48.12 720.1,47.76 720.6,47.43 721.1,47.12 721.6,46.84 722.1,46.61 722.6,46.45 723.1,46.34 723.6,46.2 724.1,46.09 724.6,45.98 725.1,45.88 725.6,45.79 726.1,45.7 726.6,45.63 727.1,45.57 727.6,45.52 728.1,45.47 728.6,45.44 729.1,45.42 729.6,45.4 730.1,45.4 730.6,45.41 731.1,45.42 731.6,45.45 732.1,45.48 732.6,45.53 733.1,45.58 733.6,45.63 734.1,45.7 734.6,45.77 735.1,45.84 735.6,45.92 736.1,46.01 736.6,46.09 737.1,46.18 737.6,46.27 738.1,46.36 738.6,46.4 739.1,46.4 821.5,46.4" fill="none" stroke="#f23a24" stroke-width="1.0" stroke-linejoin="round" />
<polyline points="653.6,46.4 653.6,46.4 654.1,46.4 654.6,46.4 655.1,46.4 655.6,46.4 656.1,46.4 656.6,46.4 657.1,46.4 657.6,46.4 658.1,46.4 658.6,46.4 659.1,46.4 659.6,46.4 660.1,46.4 660.6,46.41 661.1,46.41 661.6,46.41 662.1,46.41 662.6,46.42 663.1,46.42 663.6,46.42 664.1,46.43 664.6,46.44 665.1,46.44 665.6,46.45 666.1,46.46 666.6,46.47 667.1,46.48 667.6,46.49 668.1,46.5 668.6,46.51 669.1,46.53 669.6,46.54 670.1,46.56 670.6,46.58 671.1,46.6 671.6,46.62 672.1,46.64 672.6,46.67 673.1,46.69 673.6,46.72 674.1,46.75 674.6,46.78 675.1,46.82 675.6,46.85 676.1,46.89 676.6,46.93 677.1,46.97 677.6,47.02 678.1,47.06 678.6,47.11 679.1,47.16 679.6,47.21 680.1,47.27 680.6,47.32 681.1,47.38 681.6,47.44 682.1,47.5 682.6,47.57 683.1,47.63 683.6,47.7 684.1,47.77 684.6,47.83 685.1,47.9 685.6,47.97 686.1,48.04 686.6,48.11 687.1,48.18 687.6,48.25 688.1,48.31 688.6,48.38 689.1,48.44 689.6,48.49 690.1,48.54 690.6,48.59 691.1,48.63 691.6,48.66 692.1,48.68 692.6,48.7 693.1,48.7 693.6,48.69 694.1,48.67 694.6,48.64 695.1,48.59 695.6,48.52 696.1,48.44 696.6,48.34 697.1,48.23 697.6,48.09 698.1,47.94 698.6,47.77 699.1,47.58 699.6,47.37 700.1,47.15 700.6,46.91 701.1,46.66 701.6,46.4 702.1,46.24 702.6,45.98 703.1,45.66 703.6,45.31 704.1,44.93 704.6,44.53 705.1,44.12 705.6,43.71 706.1,43.31 706.6,42.92 707.1,42.55 707.6,42.2 708.1,41.88 708.6,41.6 709.1,41.34 709.6,41.13 710.1,40.96 710.6,40.83 711.1,40.74 711.6,40.7 712.1,40.71 712.6,40.76 713.1,40.85 713.6,40.98 714.1,41.16 714.6,41.37 715.1,41.62 715.6,41.89 716.1,42.2 716.6,42.53 717.1,42.87 717.6,43.23 718.1,43.6 718.6,43.98 719.1,44.35 719.6,44.71 720.1,45.06 720.6,45.39 721.1,45.7 721.6,45.97 722.1,46.19 722.6,46.35 723.1,46.46 723.6,46.6 724.1,46.71 724.6,46.82 725.1,46.92 725.6,47.01 726.1,47.1 726.6,47.17 727.1,47.23 727.6,47.28 728.1,47.33 728.6,47.36 729.1,47.38 729.6,47.4 730.1,47.4 730.6,47.39 731.1,47.38 731.6,47.35 732.1,47.32 732.6,47.27 733.1,47.22 733.6,47.17 734.1,47.1 734.6,47.03 735.1,46.96 735.6,46.88 736.1,46.79 736.6,46.71 737.1,46.62 737.6,46.53 738.1,46.44 738.6,46.4 739.1,46.4 758,46.6" fill="none" stroke="#1e1e1e" stroke-width="1.0" stroke-linejoin="round" />
<polyline points="616.5,124.6 658,124.6 658,124.6 658.5,124.6 659,124.6 659.5,124.6 660,124.6 660.5,124.6 661,124.6 661.5,124.6 662,124.6 662.5,124.6 663,124.6 663.5,124.6 664,124.6 664.5,124.6 665,124.6 665.5,124.6 666,124.6 666.5,124.59 667,124.59 667.5,124.59 668,124.59 668.5,124.59 669,124.59 669.5,124.58 670,124.58 670.5,124.57 671,124.57 671.5,124.57 672,124.56 672.5,124.55 673,124.55 673.5,124.54 674,124.53 674.5,124.52 675,124.51 675.5,124.5 676,124.49 676.5,124.48 677,124.46 677.5,124.45 678,124.43 678.5,124.42 679,124.4 679.5,124.38 680,124.36 680.5,124.34 681,124.31 681.5,124.29 682,124.26 682.5,124.23 683,124.2 683.5,124.17 684,124.14 684.5,124.1 685,124.07 685.5,124.03 686,123.99 686.5,123.94 687,123.9 687.5,123.85 688,123.81 688.5,123.76 689,123.71 689.5,123.65 690,123.6 690.5,123.54 691,123.49 691.5,123.43 692,123.37 692.5,123.31 693,123.25 693.5,123.19 694,123.13 694.5,123.07 695,123.01 695.5,122.95 696,122.9 696.5,122.84 697,122.79 697.5,122.75 698,122.71 698.5,122.67 699,122.64 699.5,122.62 700,122.6 700.5,122.6 701,122.61 701.5,122.62 702,122.65 702.5,122.69 703,122.75 703.5,122.82 704,122.9 704.5,123.01 705,123.13 705.5,123.26 706,123.42 706.5,123.59 707,123.77 707.5,123.97 708,124.19 708.5,124.41 709,124.6 709.5,124.68 710,124.81 710.5,124.99 711,125.22 711.5,125.48 712,125.77 712.5,126.09 713,126.42 713.5,126.77 714,127.13 714.5,127.49 715,127.85 715.5,128.2 716,128.54 716.5,128.86 717,129.16 717.5,129.43 718,129.66 718.5,129.86 719,130.01 719.5,130.12 720,130.18 720.5,130.2 721,130.16 721.5,130.08 722,129.95 722.5,129.76 723,129.54 723.5,129.26 724,128.96 724.5,128.61 725,128.24 725.5,127.84 726,127.43 726.5,127.01 727,126.59 727.5,126.18 728,125.78 728.5,125.42 729,125.09 729.5,124.82 730,124.63 730.5,124.42 731,124.22 731.5,124.06 732,123.93 732.5,123.82 733,123.74 733.5,123.68 734,123.63 734.5,123.61 735,123.6 735.5,123.61 736,123.63 736.5,123.67 737,123.71 737.5,123.77 738,123.84 738.5,123.92 739,124.01 739.5,124.1 740,124.19 740.5,124.29 741,124.39 741.5,124.5 742,124.6 742.5,124.6 743,124.6 821.5,124.6" fill="none" stroke="#f23a24" stroke-width="1.0" stroke-linejoin="round" />
<polyline points="658,124.6 658,124.6 658.5,124.6 659,124.6 659.5,124.6 660,124.6 660.5,124.6 661,124.6 661.5,124.6 662,124.6 662.5,124.6 663,124.6 663.5,124.6 664,124.6 664.5,124.6 665,124.6 665.5,124.6 666,124.61 666.5,124.61 667,124.61 667.5,124.61 668,124.61 668.5,124.62 669,124.62 669.5,124.62 670,124.63 670.5,124.63 671,124.64 671.5,124.65 672,124.65 672.5,124.66 673,124.67 673.5,124.68 674,124.69 674.5,124.7 675,124.72 675.5,124.73 676,124.75 676.5,124.76 677,124.78 677.5,124.8 678,124.82 678.5,124.85 679,124.87 679.5,124.9 680,124.93 680.5,124.96 681,124.99 681.5,125.02 682,125.06 682.5,125.1 683,125.14 683.5,125.18 684,125.22 684.5,125.27 685,125.32 685.5,125.37 686,125.43 686.5,125.49 687,125.55 687.5,125.61 688,125.67 688.5,125.74 689,125.81 689.5,125.88 690,125.95 690.5,126.03 691,126.1 691.5,126.18 692,126.26 692.5,126.34 693,126.43 693.5,126.51 694,126.59 694.5,126.67 695,126.75 695.5,126.83 696,126.9 696.5,126.97 697,127.04 697.5,127.1 698,127.16 698.5,127.2 699,127.24 699.5,127.27 700,127.29 700.5,127.3 701,127.29 701.5,127.27 702,127.23 702.5,127.18 703,127.1 703.5,127.01 704,126.89 704.5,126.75 705,126.59 705.5,126.41 706,126.2 706.5,125.97 707,125.72 707.5,125.45 708,125.16 708.5,124.85 709,124.6 709.5,124.53 710,124.4 710.5,124.22 711,124 711.5,123.75 712,123.47 712.5,123.17 713,122.84 713.5,122.51 714,122.16 714.5,121.81 715,121.46 715.5,121.12 716,120.8 716.5,120.49 717,120.2 717.5,119.95 718,119.72 718.5,119.53 719,119.38 719.5,119.28 720,119.22 720.5,119.2 721,119.23 721.5,119.32 722,119.45 722.5,119.62 723,119.84 723.5,120.1 724,120.4 724.5,120.73 725,121.09 725.5,121.47 726,121.87 726.5,122.28 727,122.68 727.5,123.08 728,123.46 728.5,123.81 729,124.13 729.5,124.39 730,124.57 730.5,124.78 731,124.98 731.5,125.14 732,125.27 732.5,125.38 733,125.46 733.5,125.52 734,125.57 734.5,125.59 735,125.6 735.5,125.59 736,125.57 736.5,125.53 737,125.49 737.5,125.43 738,125.36 738.5,125.28 739,125.19 739.5,125.1 740,125.01 740.5,124.91 741,124.81 741.5,124.7 742,124.6 742.5,124.6 743,124.6 776,124.8" fill="none" stroke="#1e1e1e" stroke-width="1.0" stroke-linejoin="round" />
<polyline points="616.5,203.4 662.4,203.4 662.4,203.4 662.9,203.4 663.4,203.4 663.9,203.4 664.4,203.4 664.9,203.4 665.4,203.4 665.9,203.4 666.4,203.4 666.9,203.4 667.4,203.4 667.9,203.4 668.4,203.4 668.9,203.4 669.4,203.4 669.9,203.4 670.4,203.4 670.9,203.4 671.4,203.4 671.9,203.4 672.4,203.39 672.9,203.39 673.4,203.39 673.9,203.39 674.4,203.39 674.9,203.39 675.4,203.38 675.9,203.38 676.4,203.38 676.9,203.38 677.4,203.37 677.9,203.37 678.4,203.36 678.9,203.36 679.4,203.36 679.9,203.35 680.4,203.34 680.9,203.34 681.4,203.33 681.9,203.33 682.4,203.32 682.9,203.31 683.4,203.3 683.9,203.29 684.4,203.28 684.9,203.27 685.4,203.26 685.9,203.25 686.4,203.24 686.9,203.23 687.4,203.22 687.9,203.2 688.4,203.19 688.9,203.17 689.4,203.16 689.9,203.14 690.4,203.12 690.9,203.1 691.4,203.09 691.9,203.07 692.4,203.05 692.9,203.02 693.4,203 693.9,202.98 694.4,202.96 694.9,202.93 695.4,202.91 695.9,202.88 696.4,202.85 696.9,202.83 697.4,202.8 697.9,202.77 698.4,202.74 698.9,202.71 699.4,202.68 699.9,202.65 700.4,202.61 700.9,202.58 701.4,202.55 701.9,202.52 702.4,202.48 702.9,202.45 703.4,202.42 703.9,202.39 704.4,202.36 704.9,202.33 705.4,202.3 705.9,202.27 706.4,202.24 706.9,202.22 707.4,202.19 707.9,202.17 708.4,202.15 708.9,202.13 709.4,202.12 709.9,202.11 710.4,202.1 710.9,202.1 711.4,202.1 711.9,202.11 712.4,202.12 712.9,202.13 713.4,202.16 713.9,202.18 714.4,202.22 714.9,202.26 715.4,202.31 715.9,202.36 716.4,202.42 716.9,202.49 717.4,202.57 717.9,202.65 718.4,202.74 718.9,202.83 719.4,202.94 719.9,203.05 720.4,203.16 720.9,203.28 721.4,203.4 721.9,203.46 722.4,203.59 722.9,203.77 723.4,203.99 723.9,204.25 724.4,204.54 724.9,204.85 725.4,205.17 725.9,205.51 726.4,205.85 726.9,206.2 727.4,206.53 727.9,206.85 728.4,207.15 728.9,207.43 729.4,207.67 729.9,207.88 730.4,208.05 730.9,208.18 731.4,208.26 731.9,208.3 732.4,208.28 732.9,208.22 733.4,208.1 733.9,207.94 734.4,207.73 734.9,207.48 735.4,207.19 735.9,206.87 736.4,206.52 736.9,206.15 737.4,205.76 737.9,205.37 738.4,204.98 738.9,204.6 739.4,204.25 739.9,203.93 740.4,203.66 740.9,203.46 741.4,203.23 741.9,202.98 742.4,202.79 742.9,202.63 743.4,202.5 743.9,202.39 744.4,202.3 744.9,202.23 745.4,202.17 745.9,202.13 746.4,202.11 746.9,202.1 747.4,202.1 747.9,202.12 748.4,202.15 748.9,202.19 749.4,202.23 749.9,202.29 750.4,202.36 750.9,202.43 751.4,202.51 751.9,202.59 752.4,202.68 752.9,202.78 753.4,202.87 753.9,202.97 754.4,203.07 754.9,203.17 755.4,203.28 755.9,203.38 756.4,203.4 756.9,203.4 821.5,203.4" fill="none" stroke="#f23a24" stroke-width="1.0" stroke-linejoin="round" />
<polyline points="662.4,203.4 662.4,203.4 662.9,203.4 663.4,203.4 663.9,203.4 664.4,203.4 664.9,203.4 665.4,203.4 665.9,203.4 666.4,203.4 666.9,203.4 667.4,203.4 667.9,203.4 668.4,203.4 668.9,203.4 669.4,203.4 669.9,203.4 670.4,203.4 670.9,203.4 671.4,203.4 671.9,203.41 672.4,203.41 672.9,203.41 673.4,203.41 673.9,203.41 674.4,203.41 674.9,203.42 675.4,203.42 675.9,203.42 676.4,203.42 676.9,203.43 677.4,203.43 677.9,203.44 678.4,203.44 678.9,203.45 679.4,203.45 679.9,203.46 680.4,203.46 680.9,203.47 681.4,203.48 681.9,203.49 682.4,203.49 682.9,203.5 683.4,203.51 683.9,203.52 684.4,203.53 684.9,203.54 685.4,203.56 685.9,203.57 686.4,203.58 686.9,203.6 687.4,203.61 687.9,203.63 688.4,203.65 688.9,203.66 689.4,203.68 689.9,203.7 690.4,203.72 690.9,203.74 691.4,203.76 691.9,203.79 692.4,203.81 692.9,203.83 693.4,203.86 693.9,203.89 694.4,203.91 694.9,203.94 695.4,203.97 695.9,204 696.4,204.03 696.9,204.06 697.4,204.1 697.9,204.13 698.4,204.16 698.9,204.2 699.4,204.23 699.9,204.27 700.4,204.31 700.9,204.34 701.4,204.38 701.9,204.42 702.4,204.46 702.9,204.49 703.4,204.53 703.9,204.57 704.4,204.6 704.9,204.64 705.4,204.67 705.9,204.71 706.4,204.74 706.9,204.77 707.4,204.79 707.9,204.82 708.4,204.84 708.9,204.86 709.4,204.88 709.9,204.89 710.4,204.9 710.9,204.9 711.4,204.9 711.9,204.89 712.4,204.88 712.9,204.86 713.4,204.83 713.9,204.8 714.4,204.76 714.9,204.72 715.4,204.66 715.9,204.6 716.4,204.53 716.9,204.45 717.4,204.36 717.9,204.27 718.4,204.16 718.9,204.05 719.4,203.93 719.9,203.81 720.4,203.68 720.9,203.54 721.4,203.4 721.9,203.34 722.4,203.21 722.9,203.03 723.4,202.81 723.9,202.55 724.4,202.26 724.9,201.95 725.4,201.63 725.9,201.29 726.4,200.95 726.9,200.6 727.4,200.27 727.9,199.95 728.4,199.65 728.9,199.37 729.4,199.13 729.9,198.92 730.4,198.75 730.9,198.62 731.4,198.54 731.9,198.5 732.4,198.52 732.9,198.58 733.4,198.7 733.9,198.86 734.4,199.07 734.9,199.32 735.4,199.61 735.9,199.93 736.4,200.28 736.9,200.65 737.4,201.04 737.9,201.43 738.4,201.82 738.9,202.2 739.4,202.55 739.9,202.87 740.4,203.14 740.9,203.34 741.4,203.63 741.9,203.98 742.4,204.25 742.9,204.47 743.4,204.65 743.9,204.8 744.4,204.93 744.9,205.03 745.4,205.1 745.9,205.15 746.4,205.19 746.9,205.2 747.4,205.19 747.9,205.17 748.4,205.13 748.9,205.08 749.4,205.01 749.9,204.93 750.4,204.84 750.9,204.74 751.4,204.64 751.9,204.52 752.4,204.39 752.9,204.27 753.4,204.13 753.9,203.99 754.4,203.85 754.9,203.71 755.4,203.57 755.9,203.43 756.4,203.4 756.9,203.4 785,203.6" fill="none" stroke="#1e1e1e" stroke-width="1.0" stroke-linejoin="round" />
<polyline points="616.5,282 666.4,282 666.4,282 666.9,282 667.4,282 667.9,282 668.4,282 668.9,282 669.4,282 669.9,282 670.4,282 670.9,282 671.4,282 671.9,282 672.4,282 672.9,282 673.4,282 673.9,282 674.4,282 674.9,282 675.4,282 675.9,282 676.4,282 676.9,282 677.4,282 677.9,282 678.4,282 678.9,282 679.4,282 679.9,282 680.4,282 680.9,282 681.4,281.99 681.9,281.99 682.4,281.99 682.9,281.99 683.4,281.99 683.9,281.99 684.4,281.99 684.9,281.99 685.4,281.98 685.9,281.98 686.4,281.98 686.9,281.98 687.4,281.97 687.9,281.97 688.4,281.97 688.9,281.97 689.4,281.96 689.9,281.96 690.4,281.95 690.9,281.95 691.4,281.94 691.9,281.94 692.4,281.93 692.9,281.93 693.4,281.92 693.9,281.91 694.4,281.91 694.9,281.9 695.4,281.89 695.9,281.88 696.4,281.87 696.9,281.86 697.4,281.85 697.9,281.84 698.4,281.83 698.9,281.82 699.4,281.81 699.9,281.79 700.4,281.78 700.9,281.76 701.4,281.75 701.9,281.73 702.4,281.71 702.9,281.7 703.4,281.68 703.9,281.66 704.4,281.64 704.9,281.62 705.4,281.6 705.9,281.58 706.4,281.55 706.9,281.53 707.4,281.5 707.9,281.48 708.4,281.45 708.9,281.43 709.4,281.4 709.9,281.38 710.4,281.35 710.9,281.32 711.4,281.29 711.9,281.27 712.4,281.24 712.9,281.21 713.4,281.19 713.9,281.16 714.4,281.13 714.9,281.11 715.4,281.09 715.9,281.07 716.4,281.05 716.9,281.03 717.4,281.02 717.9,281.01 718.4,281 718.9,281 719.4,281 719.9,281.01 720.4,281.02 720.9,281.04 721.4,281.06 721.9,281.09 722.4,281.12 722.9,281.17 723.4,281.22 723.9,281.28 724.4,281.34 724.9,281.42 725.4,281.5 725.9,281.58 726.4,281.68 726.9,281.78 727.4,281.89 727.9,282 728.4,282.06 728.9,282.18 729.4,282.34 729.9,282.53 730.4,282.74 730.9,282.98 731.4,283.24 731.9,283.51 732.4,283.79 732.9,284.07 733.4,284.35 733.9,284.63 734.4,284.9 734.9,285.16 735.4,285.41 735.9,285.63 736.4,285.84 736.9,286.02 737.4,286.18 737.9,286.31 738.4,286.4 738.9,286.47 739.4,286.5 739.9,286.49 740.4,286.46 740.9,286.38 741.4,286.28 741.9,286.14 742.4,285.97 742.9,285.78 743.4,285.56 743.9,285.31 744.4,285.05 744.9,284.76 745.4,284.47 745.9,284.17 746.4,283.86 746.9,283.56 747.4,283.26 747.9,282.97 748.4,282.71 748.9,282.46 749.4,282.25 749.9,282.09 750.4,282 750.9,281.75 751.4,281.55 751.9,281.37 752.4,281.21 752.9,281.06 753.4,280.94 753.9,280.82 754.4,280.73 754.9,280.65 755.4,280.58 755.9,280.54 756.4,280.51 756.9,280.5 757.4,280.51 757.9,280.53 758.4,280.56 758.9,280.61 759.4,280.68 759.9,280.75 760.4,280.84 760.9,280.94 761.4,281.05 761.9,281.16 762.4,281.29 762.9,281.42 763.4,281.55 763.9,281.69 764.4,281.83 764.9,281.97 765.4,282 765.9,282 821.5,282" fill="none" stroke="#f23a24" stroke-width="1.0" stroke-linejoin="round" />
<polyline points="666.4,282 666.4,282 666.9,282 667.4,282 667.9,282 668.4,282 668.9,282 669.4,282 669.9,282 670.4,282 670.9,282 671.4,282 671.9,282 672.4,282 672.9,282 673.4,282 673.9,282 674.4,282 674.9,282 675.4,282 675.9,282 676.4,282 676.9,282 677.4,282 677.9,282 678.4,282 678.9,282 679.4,282 679.9,282 680.4,282.01 680.9,282.01 681.4,282.01 681.9,282.01 682.4,282.01 682.9,282.01 683.4,282.01 683.9,282.02 684.4,282.02 684.9,282.02 685.4,282.02 685.9,282.03 686.4,282.03 686.9,282.03 687.4,282.04 687.9,282.04 688.4,282.05 688.9,282.05 689.4,282.06 689.9,282.06 690.4,282.07 690.9,282.08 691.4,282.08 691.9,282.09 692.4,282.1 692.9,282.11 693.4,282.12 693.9,282.13 694.4,282.14 694.9,282.15 695.4,282.16 695.9,282.18 696.4,282.19 696.9,282.21 697.4,282.22 697.9,282.24 698.4,282.25 698.9,282.27 699.4,282.29 699.9,282.31 700.4,282.33 700.9,282.36 701.4,282.38 701.9,282.4 702.4,282.43 702.9,282.45 703.4,282.48 703.9,282.51 704.4,282.54 704.9,282.57 705.4,282.6 705.9,282.64 706.4,282.67 706.9,282.71 707.4,282.74 707.9,282.78 708.4,282.82 708.9,282.86 709.4,282.9 709.9,282.94 710.4,282.98 710.9,283.02 711.4,283.06 711.9,283.1 712.4,283.14 712.9,283.18 713.4,283.22 713.9,283.26 714.4,283.3 714.9,283.33 715.4,283.37 715.9,283.4 716.4,283.43 716.9,283.45 717.4,283.47 717.9,283.49 718.4,283.5 718.9,283.5 719.4,283.5 719.9,283.49 720.4,283.47 720.9,283.45 721.4,283.41 721.9,283.37 722.4,283.31 722.9,283.25 723.4,283.17 723.9,283.09 724.4,282.99 724.9,282.88 725.4,282.76 725.9,282.62 726.4,282.48 726.9,282.33 727.4,282.17 727.9,282 728.4,281.94 728.9,281.82 729.4,281.66 729.9,281.47 730.4,281.26 730.9,281.02 731.4,280.76 731.9,280.49 732.4,280.21 732.9,279.93 733.4,279.65 733.9,279.37 734.4,279.1 734.9,278.84 735.4,278.59 735.9,278.37 736.4,278.16 736.9,277.98 737.4,277.82 737.9,277.69 738.4,277.6 738.9,277.53 739.4,277.5 739.9,277.51 740.4,277.54 740.9,277.62 741.4,277.72 741.9,277.86 742.4,278.03 742.9,278.22 743.4,278.44 743.9,278.69 744.4,278.95 744.9,279.24 745.4,279.53 745.9,279.83 746.4,280.14 746.9,280.44 747.4,280.74 747.9,281.03 748.4,281.29 748.9,281.54 749.4,281.75 749.9,281.91 750.4,282 750.9,282.38 751.4,282.69 751.9,282.96 752.4,283.21 752.9,283.43 753.4,283.63 753.9,283.81 754.4,283.95 754.9,284.07 755.4,284.17 755.9,284.24 756.4,284.28 756.9,284.3 757.4,284.29 757.9,284.26 758.4,284.21 758.9,284.13 759.4,284.03 759.9,283.91 760.4,283.78 760.9,283.63 761.4,283.46 761.9,283.28 762.4,283.09 762.9,282.89 763.4,282.69 763.9,282.47 764.4,282.26 764.9,282.04 765.4,282 765.9,282 790,282.2" fill="none" stroke="#1e1e1e" stroke-width="1.0" stroke-linejoin="round" />
<text x="649.5" y="27.5" font-size="14" font-family="'Liberation Serif', 'Times New Roman', serif" text-anchor="start"><tspan font-style="italic">T</tspan><tspan font-size="8" dy="1">A</tspan><tspan dy="-1"></tspan></text>
<line x1="653.9" y1="31.4" x2="653.9" y2="41.4" stroke="#222" stroke-width="1.1" />
<polygon points="653.9,44.6 652.3,40.6 655.5,40.6" fill="#222"/>
<line x1="639.7" y1="63" x2="639.7" y2="53" stroke="#222" stroke-width="1.1" />
<polygon points="639.7,49.8 638.1,53.8 641.3,53.8" fill="#222"/>
<text x="634.8" y="76.7" font-size="14" font-family="'Liberation Serif', 'Times New Roman', serif" text-anchor="start"><tspan font-style="italic">T</tspan><tspan font-size="8" dy="1">P</tspan><tspan dy="-1"></tspan></text>
<line x1="691.3" y1="63" x2="691.3" y2="54.9" stroke="#222" stroke-width="1.1" />
<polygon points="691.3,51.7 689.7,55.7 692.9,55.7" fill="#222"/>
<text x="688.4" y="76.7" font-size="14" font-family="'Liberation Serif', 'Times New Roman', serif" text-anchor="start"><tspan font-style="italic">T</tspan><tspan font-size="8" dy="1">S</tspan><tspan dy="-1"></tspan></text>
<text x="653.9" y="107" font-size="14" font-family="'Liberation Serif', 'Times New Roman', serif" text-anchor="start"><tspan font-style="italic">T</tspan><tspan font-size="8" dy="1">A</tspan><tspan dy="-1"></tspan></text>
<line x1="658.7" y1="110.7" x2="658.7" y2="120.2" stroke="#222" stroke-width="1.1" />
<polygon points="658.7,123.4 657.1,119.4 660.3,119.4" fill="#222"/>
<line x1="641.9" y1="140.8" x2="641.9" y2="130.5" stroke="#222" stroke-width="1.1" />
<polygon points="641.9,127.3 640.3,131.3 643.5,131.3" fill="#222"/>
<text x="637" y="153.7" font-size="14" font-family="'Liberation Serif', 'Times New Roman', serif" text-anchor="start"><tspan font-style="italic">T</tspan><tspan font-size="8" dy="1">P</tspan><tspan dy="-1"></tspan></text>
<line x1="699.7" y1="140.8" x2="699.7" y2="133" stroke="#222" stroke-width="1.1" />
<polygon points="699.7,129.8 698.1,133.8 701.3,133.8" fill="#222"/>
<text x="695" y="153.7" font-size="14" font-family="'Liberation Serif', 'Times New Roman', serif" text-anchor="start"><tspan font-style="italic">T</tspan><tspan font-size="8" dy="1">S</tspan><tspan dy="-1"></tspan></text>
<text x="656.1" y="184" font-size="14" font-family="'Liberation Serif', 'Times New Roman', serif" text-anchor="start"><tspan font-style="italic">T</tspan><tspan font-size="8" dy="1">A</tspan><tspan dy="-1"></tspan></text>
<line x1="661.7" y1="189.2" x2="661.7" y2="197.8" stroke="#222" stroke-width="1.1" />
<polygon points="661.7,201 660.1,197 663.3,197" fill="#222"/>
<line x1="644.1" y1="217.5" x2="644.1" y2="208.6" stroke="#222" stroke-width="1.1" />
<polygon points="644.1,205.4 642.5,209.4 645.7,209.4" fill="#222"/>
<text x="639.2" y="231.7" font-size="14" font-family="'Liberation Serif', 'Times New Roman', serif" text-anchor="start"><tspan font-style="italic">T</tspan><tspan font-size="8" dy="1">P</tspan><tspan dy="-1"></tspan></text>
<line x1="707.4" y1="216.4" x2="707.4" y2="210" stroke="#222" stroke-width="1.1" />
<polygon points="707.4,206.8 705.8,210.8 709,210.8" fill="#222"/>
<text x="704.5" y="231.7" font-size="14" font-family="'Liberation Serif', 'Times New Roman', serif" text-anchor="start"><tspan font-style="italic">T</tspan><tspan font-size="8" dy="1">S</tspan><tspan dy="-1"></tspan></text>
<text x="658" y="263" font-size="14" font-family="'Liberation Serif', 'Times New Roman', serif" text-anchor="start"><tspan font-style="italic">T</tspan><tspan font-size="8" dy="1">A</tspan><tspan dy="-1">=0.0497 s</tspan></text>
<line x1="663.8" y1="267.6" x2="663.8" y2="276.5" stroke="#222" stroke-width="1.1" />
<polygon points="663.8,279.7 662.2,275.7 665.4,275.7" fill="#222"/>
<line x1="647.1" y1="297.7" x2="647.1" y2="288.3" stroke="#222" stroke-width="1.1" />
<polygon points="647.1,285.1 645.5,289.1 648.7,289.1" fill="#222"/>
<text x="642.1" y="311.7" font-size="14" font-family="'Liberation Serif', 'Times New Roman', serif" text-anchor="start"><tspan font-style="italic">T</tspan><tspan font-size="8" dy="1">P</tspan><tspan dy="-1"></tspan></text>
<line x1="716.7" y1="297.7" x2="716.7" y2="288.3" stroke="#222" stroke-width="1.1" />
<polygon points="716.7,285.1 715.1,289.1 718.3,289.1" fill="#222"/>
<text x="711.6" y="311.7" font-size="14" font-family="'Liberation Serif', 'Times New Roman', serif" text-anchor="start"><tspan font-style="italic">T</tspan><tspan font-size="8" dy="1">S</tspan><tspan dy="-1"></tspan></text>
<line x1="727.1" y1="18.2" x2="759.4" y2="18.2" stroke="#1e1e1e" stroke-width="2" />
<line x1="727.1" y1="36.5" x2="759.4" y2="36.5" stroke="#f23a24" stroke-width="1.3" />
<text x="762.8" y="22.9" font-size="14" text-anchor="start" font-family="'Liberation Serif', 'Noto Serif CJK SC', serif" >正向激励</text>
<text x="762.8" y="42" font-size="14" text-anchor="start" font-family="'Liberation Serif', 'Noto Serif CJK SC', serif" >反向激励</text>
<text transform="translate(67,167) rotate(-90)" font-size="14" text-anchor="middle" font-family="'Liberation Serif', 'Noto Serif CJK SC', serif">测试深度/m</text>
<text x="31.8" y="385.5" font-size="14" text-anchor="start" font-family="'Liberation Serif', 'Times New Roman', serif" >(d)</text>
<rect x="80.5" y="379.5" width="219" height="178" fill="none" stroke="#4a4242" stroke-width="1"/>
<line x1="77.5" y1="379.5" x2="80.5" y2="379.5" stroke="#4a4242" stroke-width="1" />
<text x="75.5" y="384.8" font-size="14" text-anchor="end" font-family="'Liberation Serif', 'Times New Roman', serif" >1.0</text>
<line x1="77.5" y1="468.5" x2="80.5" y2="468.5" stroke="#4a4242" stroke-width="1" />
<text x="75.5" y="473.8" font-size="14" text-anchor="end" font-family="'Liberation Serif', 'Times New Roman', serif" >0</text>
<line x1="77.5" y1="557.5" x2="80.5" y2="557.5" stroke="#4a4242" stroke-width="1" />
<text x="75.5" y="562.8" font-size="14" text-anchor="end" font-family="'Liberation Serif', 'Times New Roman', serif" >-1.0</text>
<line x1="80.5" y1="557.5" x2="80.5" y2="560" stroke="#4a4242" stroke-width="1" />
<text x="81.7" y="573.6" font-size="14" text-anchor="middle" font-family="'Liberation Serif', 'Times New Roman', serif" >0.01</text>
<line x1="135.5" y1="557.5" x2="135.5" y2="560" stroke="#4a4242" stroke-width="1" />
<text x="136.45" y="573.6" font-size="14" text-anchor="middle" font-family="'Liberation Serif', 'Times New Roman', serif" >0.02</text>
<line x1="190.5" y1="557.5" x2="190.5" y2="560" stroke="#4a4242" stroke-width="1" />
<text x="191.2" y="573.6" font-size="14" text-anchor="middle" font-family="'Liberation Serif', 'Times New Roman', serif" >0.03</text>
<line x1="244.5" y1="557.5" x2="244.5" y2="560" stroke="#4a4242" stroke-width="1" />
<text x="245.95" y="573.6" font-size="14" text-anchor="middle" font-family="'Liberation Serif', 'Times New Roman', serif" >0.04</text>
<line x1="299.5" y1="557.5" x2="299.5" y2="560" stroke="#4a4242" stroke-width="1" />
<text x="300.7" y="573.6" font-size="14" text-anchor="middle" font-family="'Liberation Serif', 'Times New Roman', serif" >0.05</text>
<text x="190" y="591.5" font-size="14" font-family="'Liberation Serif', 'Times New Roman', serif" text-anchor="middle"><tspan font-style="italic">t</tspan>/s</text>
<ellipse cx="165.1" cy="468.4" rx="76.3" ry="37.0" fill="none" stroke="#8a8a8a" stroke-width="1" stroke-dasharray="5.2 2.3"/>
<polyline points="80.7,468 81.7,468 82.7,468 83.7,468 84.7,468 85.7,468 86.7,468 87.7,468 88.7,468 89.7,468 90.7,468 91.7,468 92.7,468 93.7,468 94.7,468 95.7,468 96.7,468 97.7,468 98.7,468 99.7,468 100.7,468 101.7,468 102.7,468 103.7,468 104.7,468 105.7,468 106.7,468 107.7,468 108.7,468 109.7,468 110.7,468 111.7,468 112.7,468 113.7,468 114.7,468 115.7,468 116.7,468 117.7,468 118.7,468 119.7,468 120.7,468 121.7,468 122.7,468 123.7,468 124.7,468 125.7,468 126.7,468 127.7,468 128.7,468 129.7,468 130.7,468 131.7,468 132.7,468 133.7,468 134.7,468 135.7,468 136.7,468 137.7,468 138.7,468 139.7,468 140.7,468 141.7,468 142.7,468 143.7,468 144.7,468 145.7,468.01 146.7,468.01 147.7,468.02 148.7,468.03 149.7,468.04 150.5,468.06 151.5,468.09 152.5,468.12 153.5,468.15 154.5,468.2 155.5,468.24 156.5,468.29 157.5,468.35 158.5,468.41 159.5,468.47 160.5,468.53 161.5,468.59 162.5,468.65 163.5,468.72 164.5,468.78 165.5,468.85 166.5,468.91 167.5,468.99 168.5,469.06 169.5,469.13 170.5,469.21 171.5,469.3 172.5,469.38 173.5,469.47 174.5,469.57 175.1,469.67 176.1,469.79 177.1,469.9 178.1,470.03 179.1,470.16 180.1,470.31 181.1,470.46 182.1,470.62 183.1,470.79 184.1,470.96 185.1,471.14 186.1,471.33 187.1,471.53 188.1,471.73 189.1,471.94 190.1,472.15 191.1,472.37 192.1,472.59 193.1,472.82 194.1,473.05 195.1,473.28 196.1,473.51 197.1,473.75 197.7,474 198.7,474.25 199.7,474.51 200.7,474.78 201.7,475.06 202.7,475.35 203.7,475.65 204.7,475.96 205.7,476.28 206.7,476.61 207.7,476.95 208.7,477.29 209.7,477.65 210.7,478.01 211.7,478.38 212.7,478.76 213.7,479.14 214.7,479.53 215.7,479.92 216.7,480.32 217.7,480.73 218.7,481.14 219.7,481.56 220.3,482 221.3,482.44 222.3,482.9 223.3,483.38 224.3,483.86 225.3,484.37 226.3,484.88 227.3,485.39 228.3,485.92 229.3,486.44 230.3,486.96 231.3,487.49 232.3,488 233.3,488.52 234.3,489.03 235.3,489.53 236.3,490.03 237.3,490.53 238.3,491.03 239.3,491.52 240.3,492.01 241.3,492.5 242.3,492.99 243.3,493.47 244.3,493.96 245.3,494.44 246.3,494.93 247.3,495.42 248.3,495.9 249.3,496.39 250.3,496.88 251.3,497.37 252.3,497.86 253.3,498.36 254.3,498.85 255.3,499.35 256.3,499.86 257.3,500.38 258.3,500.9 259.3,501.44 260.1,502 261.1,502.57 262.1,503.16 263.1,503.77 264.1,504.4 265.1,505.04 266.1,505.68 267.1,506.32 268.1,506.95 269.1,507.57 270.1,508.16 271.1,508.72 272.1,509.24 273.1,509.71 274.1,510.13 275.1,510.5 276.1,510.81 277.1,511.06 278.1,511.25 279,511.39 280,511.48 281,511.52 282,511.53 283,511.51 284,511.47 285,511.4 286,511.3 287,511.19 288,511.06 289,510.9 290,510.72 291,510.52 292,510.28 293,510.02 294,509.73 295,509.41 296,509.08 297,508.72 298,508.36 299,507.99 299.4,507.8" fill="none" stroke="#1e1e1e" stroke-width="1.0" stroke-linejoin="round" />
<polyline points="80.7,468 81.7,468 82.7,468 83.7,468 84.7,468 85.7,468 86.7,468 87.7,468 88.7,468 89.7,468 90.7,468 91.7,468 92.7,468 93.7,468 94.7,468 95.7,468 96.7,468 97.7,468 98.7,468 99.7,468 100.7,468 101.7,468 102.7,468 103.7,468 104.7,468 105.7,468 106.7,468 107.7,468 108.7,468 109.7,468 110.7,468 111.7,468 112.7,468 113.7,468 114.7,468 115.7,468 116.7,468 117.7,468 118.7,468 119.7,468 120.7,468 121.7,468 122.7,468 123.7,468 124.7,468 125.7,468 126.7,468 127.7,468 128.7,468 129.7,468 130.7,468 131.7,468 132.7,468 133.7,468 134.7,468 135.7,468 136.7,468 137.7,468 138.7,468 139.7,468 140.7,468 141.7,468 142.7,468 143.7,468 144.7,468 145.7,468 146.7,467.99 147.7,467.99 148.7,467.98 149.7,467.97 150.5,467.96 151.5,467.94 152.5,467.91 153.5,467.88 154.5,467.85 155.5,467.81 156.5,467.76 157.5,467.7 158.5,467.64 159.5,467.57 160.5,467.49 161.5,467.4 162.5,467.3 163.5,467.19 164.5,467.07 165.5,466.95 166.5,466.81 167.5,466.67 168.5,466.51 169.5,466.36 170.5,466.2 171.5,466.03 172.5,465.87 173.5,465.7 174.5,465.52 175.1,465.35 176.1,465.17 177.1,464.99 178.1,464.81 179.1,464.62 180.1,464.43 181.1,464.23 182.1,464.03 183.1,463.82 184.1,463.6 185.1,463.39 186.1,463.16 187.1,462.94 188.1,462.71 189.1,462.47 190.1,462.23 191.1,461.99 192.1,461.75 193.1,461.5 194.1,461.24 195.1,460.99 196.1,460.73 197.1,460.47 197.7,460.2 198.7,459.93 199.7,459.65 200.7,459.36 201.7,459.06 202.7,458.75 203.7,458.44 204.7,458.12 205.7,457.79 206.7,457.45 207.7,457.11 208.7,456.76 209.7,456.4 210.7,456.04 211.7,455.68 212.7,455.31 213.7,454.94 214.7,454.57 215.7,454.19 216.7,453.81 217.7,453.44 218.7,453.06 219.7,452.67 220.3,452.28 221.3,451.89 222.3,451.49 223.3,451.08 224.3,450.66 225.3,450.23 226.3,449.8 227.3,449.35 228.3,448.89 229.3,448.42 230.3,447.94 231.3,447.46 232.3,446.96 233.3,446.44 234.3,445.92 235.3,445.39 236.3,444.84 237.3,444.28 238.3,443.72 239.3,443.14 240.3,442.56 241.3,441.97 242.3,441.38 243.3,440.78 244.3,440.18 245.3,439.58 246.3,438.99 247.3,438.39 248.3,437.81 249.3,437.22 250.3,436.65 251.3,436.09 252.3,435.53 253.3,434.99 254.3,434.47 255.3,433.95 256.3,433.45 257.3,432.97 258.3,432.49 259.3,432.02 260.1,431.56 261.1,431.11 262.1,430.66 263.1,430.21 264.1,429.76 265.1,429.32 266.1,428.88 267.1,428.46 268.1,428.04 269.1,427.64 270.1,427.26 271.1,426.9 272.1,426.57 273.1,426.27 274.1,426 275.1,425.76 276.1,425.57 277.1,425.41 278.1,425.29 279.1,425.2 280,425.14 281,425.12 282,425.12 283,425.15 284,425.19 285,425.26 286,425.34 287,425.44 288,425.56 289,425.69 290,425.85 291,426.02 292,426.21 293,426.43 294,426.66 295,426.91 296,427.18 297,427.46 298,427.75 299,428.05 299.4,428.2" fill="none" stroke="#f23a24" stroke-width="1.0" stroke-linejoin="round" />
<line x1="202.1" y1="386.7" x2="234.1" y2="386.7" stroke="#1e1e1e" stroke-width="1.5" />
<line x1="202.1" y1="401.9" x2="234.1" y2="401.9" stroke="#f23a24" stroke-width="1.5" />
<text x="239.1" y="390.3" font-size="13" text-anchor="start" font-family="'Liberation Serif', 'Noto Serif CJK SC', serif" >正向激励</text>
<text x="239.1" y="405.6" font-size="13" text-anchor="start" font-family="'Liberation Serif', 'Noto Serif CJK SC', serif" >反向激励</text>
<text x="269.6" y="439.6" font-size="14" text-anchor="start" font-family="'Liberation Serif', 'Times New Roman', serif" >×5</text>
<line x1="88.4" y1="482.2" x2="88.4" y2="472.1" stroke="#222" stroke-width="1.1" />
<polygon points="88.4,468.9 86.8,472.9 90,472.9" fill="#222"/>
<text x="83.8" y="494.3" font-size="14" font-family="'Liberation Serif', 'Times New Roman', serif" text-anchor="start"><tspan font-style="italic">T</tspan><tspan font-size="8" dy="1">P</tspan><tspan dy="-1"></tspan></text>
<line x1="242.5" y1="511" x2="242.5" y2="502.5" stroke="#222" stroke-width="1.1" />
<polygon points="242.5,499.3 240.9,503.3 244.1,503.3" fill="#222"/>
<text x="238.9" y="524.4" font-size="14" font-family="'Liberation Serif', 'Times New Roman', serif" text-anchor="start"><tspan font-style="italic">T</tspan><tspan font-size="8" dy="1">S</tspan><tspan dy="-1"></tspan></text>
<line x1="120.8" y1="505.4" x2="132.9" y2="495.72" stroke="#000" stroke-width="3.8" />
<polygon points="136.8,492.6 134.63,498.69 130.38,493.38" fill="#000"/>
<text x="83.7" y="521.5" font-size="14" font-family="'Liberation Serif', 'Noto Serif CJK SC', serif"><tspan font-weight="bold">P</tspan>波极性出现<tspan font-weight="bold">180°</tspan>反转</text>
<text transform="translate(46.2,468.5) rotate(-90)" font-size="14" text-anchor="middle" font-family="'Liberation Serif', 'Noto Serif CJK SC', serif">位移/<tspan font-weight="bold">(10</tspan><tspan font-size="9" dy="-5">-5</tspan><tspan dy="5" font-weight="bold"> m)</tspan></text>
<text x="311.8" y="385.5" font-size="14" text-anchor="start" font-family="'Liberation Serif', 'Times New Roman', serif" >(e)</text>
<rect x="361.5" y="379.5" width="218" height="178" fill="none" stroke="#4a4242" stroke-width="1"/>
<line x1="358.5" y1="379.5" x2="361.5" y2="379.5" stroke="#4a4242" stroke-width="1" />
<text x="356.5" y="384.8" font-size="14" text-anchor="end" font-family="'Liberation Serif', 'Times New Roman', serif" >0.5</text>
<line x1="358.5" y1="468.5" x2="361.5" y2="468.5" stroke="#4a4242" stroke-width="1" />
<text x="356.5" y="473.8" font-size="14" text-anchor="end" font-family="'Liberation Serif', 'Times New Roman', serif" >0</text>
<line x1="358.5" y1="557.5" x2="361.5" y2="557.5" stroke="#4a4242" stroke-width="1" />
<text x="356.5" y="562.8" font-size="14" text-anchor="end" font-family="'Liberation Serif', 'Times New Roman', serif" >-0.5</text>
<line x1="361.5" y1="557.5" x2="361.5" y2="560" stroke="#4a4242" stroke-width="1" />
<text x="362.7" y="573.6" font-size="14" text-anchor="middle" font-family="'Liberation Serif', 'Times New Roman', serif" >0.02</text>
<line x1="392.5" y1="557.5" x2="392.5" y2="560" stroke="#4a4242" stroke-width="1" />
<text x="393.84" y="573.6" font-size="14" text-anchor="middle" font-family="'Liberation Serif', 'Times New Roman', serif" >0.03</text>
<line x1="423.5" y1="557.5" x2="423.5" y2="560" stroke="#4a4242" stroke-width="1" />
<text x="424.99" y="573.6" font-size="14" text-anchor="middle" font-family="'Liberation Serif', 'Times New Roman', serif" >0.04</text>
<line x1="454.5" y1="557.5" x2="454.5" y2="560" stroke="#4a4242" stroke-width="1" />
<text x="456.13" y="573.6" font-size="14" text-anchor="middle" font-family="'Liberation Serif', 'Times New Roman', serif" >0.05</text>
<line x1="486.5" y1="557.5" x2="486.5" y2="560" stroke="#4a4242" stroke-width="1" />
<text x="487.27" y="573.6" font-size="14" text-anchor="middle" font-family="'Liberation Serif', 'Times New Roman', serif" >0.06</text>
<line x1="517.5" y1="557.5" x2="517.5" y2="560" stroke="#4a4242" stroke-width="1" />
<text x="518.41" y="573.6" font-size="14" text-anchor="middle" font-family="'Liberation Serif', 'Times New Roman', serif" >0.07</text>
<line x1="548.5" y1="557.5" x2="548.5" y2="560" stroke="#4a4242" stroke-width="1" />
<text x="549.56" y="573.6" font-size="14" text-anchor="middle" font-family="'Liberation Serif', 'Times New Roman', serif" >0.08</text>
<line x1="579.5" y1="557.5" x2="579.5" y2="560" stroke="#4a4242" stroke-width="1" />
<text x="580.7" y="573.6" font-size="14" text-anchor="middle" font-family="'Liberation Serif', 'Times New Roman', serif" >0.09</text>
<text x="470.5" y="591.5" font-size="14" font-family="'Liberation Serif', 'Times New Roman', serif" text-anchor="middle"><tspan font-style="italic">t</tspan>/s</text>
<ellipse cx="463.5" cy="464.7" rx="89.4" ry="52.3" fill="none" stroke="#8a8a8a" stroke-width="1" stroke-dasharray="5.2 2.3"/>
<polyline points="361.6,467.6 362.6,467.6 363.6,467.6 364.6,467.6 365.6,467.6 366.6,467.6 367.6,467.6 368.6,467.6 369.6,467.6 370.6,467.6 371.6,467.6 372.6,467.6 373.6,467.6 374.6,467.6 375.6,467.6 376.6,467.6 377.6,467.6 378.6,467.6 379.6,467.6 380.6,467.6 381.6,467.6 382.6,467.6 383.6,467.6 384.6,467.6 385.6,467.6 386.6,467.6 387.6,467.6 388.6,467.6 389.6,467.6 390.6,467.6 391.6,467.6 392.6,467.6 393.6,467.6 394.6,467.6 395.6,467.6 396.6,467.6 397.6,467.6 398.6,467.6 399.6,467.6 400.6,467.6 401.6,467.6 402.6,467.6 403.6,467.6 404.6,467.6 405.6,467.61 406.6,467.61 407.6,467.62 408.6,467.63 409.6,467.66 410.6,467.68 411.5,467.72 412.5,467.77 413.5,467.84 414.5,467.91 415.5,467.99 416.5,468.09 417.5,468.19 418.5,468.3 419.5,468.42 420.5,468.53 421.5,468.65 422.5,468.76 423.2,468.87 424.2,468.97 425.2,469.07 426.2,469.18 427.2,469.28 428.2,469.38 429.2,469.48 430.2,469.59 431.2,469.71 432.2,469.84 433.2,469.98 434.2,470.13 434.8,470.3 435.8,470.49 436.8,470.7 437.8,470.93 438.8,471.18 439.8,471.44 440.8,471.72 441.8,472.01 442.8,472.31 443.8,472.61 444.8,472.92 445.8,473.23 446.4,473.55 447.4,473.86 448.4,474.18 449.4,474.5 450.4,474.82 451.4,475.16 452.4,475.5 453.4,475.86 454.4,476.23 455.4,476.62 456.4,477.02 457.4,477.45 458.1,477.9 459.1,478.37 460.1,478.87 461.1,479.39 462.1,479.94 463.1,480.51 464.1,481.09 465.1,481.68 466.1,482.28 467.1,482.88 468.1,483.48 469.1,484.08 469.7,484.67 470.7,485.27 471.7,485.86 472.7,486.45 473.7,487.04 474.7,487.63 475.7,488.22 476.7,488.81 477.7,489.4 478.7,489.98 479.7,490.56 480.7,491.14 481.7,491.7 482.7,492.26 483.7,492.81 484.7,493.36 485.7,493.9 486.7,494.43 487.7,494.96 488.7,495.48 489.7,495.99 490.7,496.5 491.7,497.01 492.7,497.51 493.7,498.01 494.7,498.51 495.7,499 496.7,499.49 497.7,499.98 498.7,500.46 499.7,500.94 500.7,501.42 501.7,501.9 502.7,502.37 503.7,502.84 504.7,503.31 505.7,503.77 506.5,504.24 507.5,504.7 508.5,505.16 509.5,505.62 510.5,506.09 511.5,506.55 512.5,507.01 513.5,507.47 514.5,507.93 515.5,508.39 516.5,508.85 517.5,509.3 518.5,509.76 519.5,510.21 520.5,510.66 521.5,511.1 522.5,511.55 523.5,511.98 524.5,512.42 525.5,512.85 526.5,513.28 527.5,513.7 528.5,514.11 529.5,514.52 530.2,514.93 531.2,515.34 532.2,515.74 533.2,516.14 534.2,516.53 535.2,516.93 536.2,517.32 537.2,517.72 538.2,518.11 539.2,518.5 540.2,518.89 541.2,519.28 542.2,519.67 543.2,520.07 544.2,520.46 545.2,520.86 546.2,521.26 547.2,521.66 548.2,522.07 549.2,522.49 550.2,522.91 551.2,523.34 552.2,523.77 552.9,524.21 553.9,524.63 554.9,525.05 555.9,525.44 556.9,525.79 557.9,526.1 558.9,526.35 559.9,526.52 560.5,526.63 561.5,526.66 562.5,526.62 563.5,526.5 564.5,526.3 565.5,526.03 566.5,525.65 567.5,525.18 568.5,524.59 569.2,523.86 570.2,523 571.2,521.98 572.2,520.81 573.2,519.5 574.2,518.06 575.2,516.51 576.2,514.87 577.2,513.18 578.2,511.44 579.2,509.68 579.6,508.8" fill="none" stroke="#1e1e1e" stroke-width="1.0" stroke-linejoin="round" />
<polyline points="361.6,467.6 362.6,467.6 363.6,467.6 364.6,467.6 365.6,467.6 366.6,467.6 367.6,467.6 368.6,467.6 369.6,467.6 370.6,467.6 371.6,467.6 372.6,467.6 373.6,467.6 374.6,467.6 375.6,467.6 376.6,467.6 377.6,467.6 378.6,467.6 379.6,467.6 380.6,467.6 381.6,467.6 382.6,467.6 383.6,467.6 384.6,467.6 385.6,467.6 386.6,467.6 387.6,467.6 388.6,467.6 389.6,467.6 390.6,467.6 391.6,467.6 392.6,467.6 393.6,467.6 394.6,467.6 395.6,467.6 396.6,467.6 397.6,467.6 398.6,467.6 399.6,467.6 400.6,467.6 401.6,467.6 402.6,467.6 403.6,467.6 404.6,467.6 405.6,467.59 406.6,467.59 407.6,467.58 408.6,467.57 409.6,467.54 410.6,467.52 411.5,467.48 412.5,467.42 413.5,467.36 414.5,467.28 415.5,467.19 416.5,467.09 417.5,466.98 418.5,466.86 419.5,466.73 420.5,466.6 421.5,466.46 422.5,466.33 423.2,466.19 424.2,466.04 425.2,465.9 426.2,465.75 427.2,465.6 428.2,465.45 429.2,465.29 430.2,465.12 431.2,464.94 432.2,464.75 433.2,464.56 434.2,464.35 434.8,464.12 435.8,463.88 436.8,463.62 437.8,463.35 438.8,463.05 439.8,462.74 440.8,462.42 441.8,462.09 442.8,461.74 443.8,461.38 444.8,461.01 445.8,460.64 446.4,460.26 447.4,459.86 448.4,459.46 449.4,459.04 450.4,458.61 451.4,458.17 452.4,457.72 453.4,457.27 454.4,456.8 455.4,456.33 456.4,455.85 457.4,455.37 458.1,454.87 459.1,454.37 460.1,453.87 461.1,453.35 462.1,452.83 463.1,452.3 464.1,451.76 465.1,451.22 466.1,450.67 467.1,450.12 468.1,449.56 469.1,449 469.7,448.44 470.7,447.87 471.7,447.29 472.7,446.7 473.7,446.11 474.7,445.51 475.7,444.9 476.7,444.29 477.7,443.68 478.7,443.07 479.7,442.45 480.7,441.85 481.7,441.24 482.7,440.64 483.7,440.04 484.7,439.45 485.7,438.87 486.7,438.28 487.7,437.7 488.7,437.12 489.7,436.55 490.7,435.98 491.7,435.41 492.7,434.84 493.7,434.28 494.7,433.73 495.7,433.17 496.7,432.62 497.7,432.08 498.7,431.54 499.7,431.01 500.7,430.49 501.7,429.97 502.7,429.46 503.7,428.96 504.7,428.47 505.7,427.98 506.5,427.5 507.5,427.03 508.5,426.56 509.5,426.09 510.5,425.63 511.5,425.17 512.5,424.71 513.5,424.26 514.5,423.82 515.5,423.37 516.5,422.93 517.5,422.5 518.5,422.07 519.5,421.64 520.5,421.22 521.5,420.8 522.5,420.39 523.5,419.98 524.5,419.58 525.5,419.18 526.5,418.79 527.5,418.4 528.5,418.02 529.5,417.63 530.2,417.25 531.2,416.87 532.2,416.49 533.2,416.11 534.2,415.72 535.2,415.34 536.2,414.95 537.2,414.57 538.2,414.19 539.2,413.81 540.2,413.44 541.2,413.07 542.2,412.71 543.2,412.37 544.2,412.03 545.2,411.71 546.2,411.4 547.2,411.11 548.2,410.83 549.2,410.57 550.2,410.33 551.2,410.11 552.2,409.91 552.9,409.73 553.9,409.59 554.9,409.47 555.9,409.4 556.9,409.37 557.9,409.39 558.5,409.47 559.5,409.6 560.5,409.8 561.5,410.05 562.5,410.38 563.5,410.76 564.5,411.21 565.5,411.73 566.5,412.31 567.5,412.96 568.5,413.69 569.2,414.51 570.2,415.41 571.2,416.4 572.2,417.48 573.2,418.65 574.2,419.89 575.2,421.2 576.2,422.55 577.2,423.94 578.2,425.36 579.2,426.78 579.6,427.5" fill="none" stroke="#f23a24" stroke-width="1.0" stroke-linejoin="round" />
<line x1="483.8" y1="386.7" x2="515.5" y2="386.7" stroke="#1e1e1e" stroke-width="1.5" />
<line x1="483.8" y1="401.9" x2="515.5" y2="401.9" stroke="#f23a24" stroke-width="1.5" />
<text x="519" y="390.3" font-size="13" text-anchor="start" font-family="'Liberation Serif', 'Noto Serif CJK SC', serif" >正向激励</text>
<text x="519" y="405.6" font-size="13" text-anchor="start" font-family="'Liberation Serif', 'Noto Serif CJK SC', serif" >反向激励</text>
<text x="547.8" y="425.8" font-size="14" text-anchor="start" font-family="'Liberation Serif', 'Times New Roman', serif" >×10</text>
<line x1="369.1" y1="483" x2="369.1" y2="472.6" stroke="#222" stroke-width="1.1" />
<polygon points="369.1,469.4 367.5,473.4 370.7,473.4" fill="#222"/>
<text x="364.6" y="496.2" font-size="14" font-family="'Liberation Serif', 'Times New Roman', serif" text-anchor="start"><tspan font-style="italic">T</tspan><tspan font-size="8" dy="1">P</tspan><tspan dy="-1"></tspan></text>
<line x1="545.7" y1="537.5" x2="545.7" y2="526.9" stroke="#222" stroke-width="1.1" />
<polygon points="545.7,523.7 544.1,527.7 547.3,527.7" fill="#222"/>
<text x="540.5" y="551.2" font-size="14" font-family="'Liberation Serif', 'Times New Roman', serif" text-anchor="start"><tspan font-style="italic">T</tspan><tspan font-size="8" dy="1">S</tspan><tspan dy="-1"></tspan></text>
<line x1="396.1" y1="506.4" x2="407.99" y2="496.92" stroke="#000" stroke-width="3.8" />
<polygon points="411.9,493.8 409.72,499.89 405.48,494.57" fill="#000"/>
<text transform="translate(327.2,468.5) rotate(-90)" font-size="14" text-anchor="middle" font-family="'Liberation Serif', 'Noto Serif CJK SC', serif">位移/<tspan font-weight="bold">(10</tspan><tspan font-size="9" dy="-5">-5</tspan><tspan dy="5" font-weight="bold"> m)</tspan></text>
<text x="595.6" y="385.5" font-size="14" text-anchor="start" font-family="'Liberation Serif', 'Times New Roman', serif" >(f)</text>
<rect x="641.5" y="379.5" width="219" height="178" fill="none" stroke="#4a4242" stroke-width="1"/>
<line x1="638.5" y1="379.5" x2="641.5" y2="379.5" stroke="#4a4242" stroke-width="1" />
<text x="636.5" y="384.8" font-size="14" text-anchor="end" font-family="'Liberation Serif', 'Times New Roman', serif" >0.2</text>
<line x1="638.5" y1="468.5" x2="641.5" y2="468.5" stroke="#4a4242" stroke-width="1" />
<text x="636.5" y="473.8" font-size="14" text-anchor="end" font-family="'Liberation Serif', 'Times New Roman', serif" >0</text>
<line x1="638.5" y1="557.5" x2="641.5" y2="557.5" stroke="#4a4242" stroke-width="1" />
<text x="636.5" y="562.8" font-size="14" text-anchor="end" font-family="'Liberation Serif', 'Times New Roman', serif" >-0.2</text>
<line x1="641.5" y1="557.5" x2="641.5" y2="560" stroke="#4a4242" stroke-width="1" />
<text x="642.7" y="573.6" font-size="14" text-anchor="middle" font-family="'Liberation Serif', 'Times New Roman', serif" >0.03</text>
<line x1="685.5" y1="557.5" x2="685.5" y2="560" stroke="#4a4242" stroke-width="1" />
<text x="686.5" y="573.6" font-size="14" text-anchor="middle" font-family="'Liberation Serif', 'Times New Roman', serif" >0.05</text>
<line x1="729.5" y1="557.5" x2="729.5" y2="560" stroke="#4a4242" stroke-width="1" />
<text x="730.3" y="573.6" font-size="14" text-anchor="middle" font-family="'Liberation Serif', 'Times New Roman', serif" >0.07</text>
<line x1="772.5" y1="557.5" x2="772.5" y2="560" stroke="#4a4242" stroke-width="1" />
<text x="774.1" y="573.6" font-size="14" text-anchor="middle" font-family="'Liberation Serif', 'Times New Roman', serif" >0.09</text>
<line x1="816.5" y1="557.5" x2="816.5" y2="560" stroke="#4a4242" stroke-width="1" />
<text x="817.9" y="573.6" font-size="14" text-anchor="middle" font-family="'Liberation Serif', 'Times New Roman', serif" >0.11</text>
<line x1="860.5" y1="557.5" x2="860.5" y2="560" stroke="#4a4242" stroke-width="1" />
<text x="861.7" y="573.6" font-size="14" text-anchor="middle" font-family="'Liberation Serif', 'Times New Roman', serif" >0.13</text>
<text x="751" y="591.5" font-size="14" font-family="'Liberation Serif', 'Times New Roman', serif" text-anchor="middle"><tspan font-style="italic">t</tspan>/s</text>
<ellipse cx="745.2" cy="464.7" rx="89.3" ry="52.3" fill="none" stroke="#8a8a8a" stroke-width="1" stroke-dasharray="5.2 2.3"/>
<polyline points="641.3,467.8 642.3,467.8 643.3,467.8 644.3,467.8 645.3,467.8 646.3,467.8 647.3,467.8 648.3,467.8 649.3,467.8 650.3,467.8 651.3,467.8 652.3,467.8 653.3,467.8 654.3,467.8 655.3,467.8 656.3,467.8 657.3,467.8 658.3,467.8 659.3,467.8 660.3,467.8 661.3,467.8 662.3,467.8 663.3,467.8 664.3,467.8 665.3,467.8 666.3,467.8 667.3,467.8 668.3,467.8 669.3,467.8 670.3,467.8 671.3,467.8 672.3,467.8 673.3,467.8 674.3,467.8 675.3,467.8 676.3,467.8 677.3,467.8 678.3,467.8 679.3,467.8 680.3,467.81 681.3,467.81 682.3,467.82 683.3,467.83 684.3,467.86 685.3,467.89 686.3,467.94 686.9,468.01 687.9,468.09 688.9,468.2 689.9,468.34 690.9,468.5 691.9,468.68 692.9,468.89 693.9,469.11 694.9,469.35 695.9,469.61 696.9,469.89 697.9,470.17 698.9,470.47 699.9,470.78 700.9,471.1 701.9,471.43 702.9,471.78 703.9,472.14 704.9,472.51 705.9,472.89 706.9,473.29 707.9,473.7 708.9,474.12 709.9,474.54 710.9,474.98 711.9,475.42 712.9,475.87 713.9,476.32 714.8,476.79 715.8,477.26 716.8,477.73 717.8,478.22 718.8,478.71 719.8,479.21 720.8,479.72 721.8,480.23 722.8,480.73 723.8,481.24 724.8,481.74 725.8,482.24 726.8,482.73 727.8,483.21 728.8,483.67 729.7,484.13 730.7,484.58 731.7,485.02 732.7,485.46 733.7,485.88 734.7,486.3 735.7,486.7 736.7,487.11 737.7,487.5 738.7,487.89 739.7,488.27 740.7,488.64 741.7,489.01 742.7,489.36 743.7,489.71 744.6,490.05 745.6,490.39 746.6,490.72 747.6,491.04 748.6,491.35 749.6,491.66 750.6,491.97 751.6,492.27 752.6,492.56 753.6,492.86 754.6,493.15 755.6,493.44 756.6,493.73 757.6,494.02 758.6,494.31 759.6,494.6 760.6,494.89 761.6,495.18 762.6,495.47 763.6,495.75 764.6,496.04 765.6,496.33 766.6,496.61 767.6,496.9 768.6,497.18 769.6,497.47 770.5,497.75 771.5,498.03 772.5,498.32 773.5,498.6 774.5,498.89 775.5,499.18 776.5,499.46 777.5,499.75 778.5,500.05 779.5,500.35 780.5,500.65 781.5,500.95 782.5,501.27 783.5,501.58 784.5,501.91 785.4,502.24 786.4,502.58 787.4,502.92 788.4,503.27 789.4,503.63 790.4,504 791.4,504.37 792.4,504.75 793.4,505.13 794.4,505.52 795.4,505.91 796.4,506.31 797.4,506.71 798.4,507.12 799.4,507.53 800.4,507.95 801.4,508.37 802.4,508.79 803.4,509.22 804.4,509.65 805.4,510.08 806.4,510.51 807.4,510.95 808.4,511.39 809.4,511.83 810.3,512.28 811.3,512.73 812.3,513.19 813.3,513.65 814.3,514.12 815.3,514.6 816.3,515.08 817.3,515.56 818.3,516.05 819.3,516.55 820.3,517.05 821.3,517.55 822.3,518.06 823.3,518.56 824.3,519.08 825.3,519.59 826.3,520.1 827.3,520.62 828.3,521.13 829.3,521.65 830.3,522.17 831.3,522.69 832.3,523.21 833.3,523.73 834.3,524.26 835.1,524.79 836.1,525.33 837.1,525.87 838.1,526.41 839.1,526.96 840.1,527.5 841.1,528.02 842.1,528.54 843.1,529.03 844.1,529.49 845.1,529.91 846.1,530.3 847.1,530.63 848.1,530.91 849.1,531.12 850.1,531.26 851.1,531.32 852,531.3 853,531.19 854,531 855,530.73 856,530.39 857,529.99 858,529.56 859,529.09 860,528.6 860.7,528.1 860.7,528.1" fill="none" stroke="#1e1e1e" stroke-width="1.0" stroke-linejoin="round" />
<polyline points="641.3,467.8 642.3,467.8 643.3,467.8 644.3,467.8 645.3,467.8 646.3,467.8 647.3,467.8 648.3,467.8 649.3,467.8 650.3,467.8 651.3,467.8 652.3,467.8 653.3,467.8 654.3,467.8 655.3,467.8 656.3,467.8 657.3,467.8 658.3,467.8 659.3,467.8 660.3,467.8 661.3,467.8 662.3,467.8 663.3,467.8 664.3,467.8 665.3,467.8 666.3,467.8 667.3,467.8 668.3,467.8 669.3,467.8 670.3,467.8 671.3,467.8 672.3,467.8 673.3,467.8 674.3,467.8 675.3,467.8 676.3,467.8 677.3,467.8 678.3,467.8 679.3,467.8 680.3,467.79 681.3,467.79 682.3,467.78 683.3,467.76 684.3,467.73 685.3,467.69 686.3,467.64 686.9,467.56 687.9,467.46 688.9,467.34 689.9,467.18 690.9,467 691.9,466.79 692.9,466.56 693.9,466.3 694.9,466.02 695.9,465.73 696.9,465.42 697.9,465.1 698.9,464.77 699.9,464.43 700.9,464.08 701.9,463.71 702.9,463.33 703.9,462.94 704.9,462.54 705.9,462.13 706.9,461.7 707.9,461.27 708.9,460.82 709.9,460.37 710.9,459.91 711.9,459.45 712.9,458.98 713.9,458.51 714.8,458.04 715.8,457.55 716.8,457.07 717.8,456.57 718.8,456.07 719.8,455.57 720.8,455.07 721.8,454.56 722.8,454.05 723.8,453.55 724.8,453.04 725.8,452.55 726.8,452.06 727.8,451.59 728.8,451.12 729.7,450.65 730.7,450.2 731.7,449.76 732.7,449.32 733.7,448.89 734.7,448.47 735.7,448.05 736.7,447.64 737.7,447.24 738.7,446.85 739.7,446.46 740.7,446.08 741.7,445.71 742.7,445.35 743.7,444.99 744.6,444.64 745.6,444.3 746.6,443.97 747.6,443.64 748.6,443.32 749.6,443.01 750.6,442.7 751.6,442.39 752.6,442.09 753.6,441.8 754.6,441.51 755.6,441.23 756.6,440.95 757.6,440.68 758.6,440.42 759.6,440.15 760.6,439.9 761.6,439.65 762.6,439.4 763.6,439.16 764.6,438.91 765.6,438.66 766.6,438.41 767.6,438.16 768.6,437.9 769.6,437.63 770.5,437.35 771.5,437.05 772.5,436.75 773.5,436.44 774.5,436.11 775.5,435.78 776.5,435.43 777.5,435.08 778.5,434.72 779.5,434.35 780.5,433.98 781.5,433.6 782.5,433.22 783.5,432.83 784.5,432.43 785.4,432.03 786.4,431.63 787.4,431.22 788.4,430.8 789.4,430.37 790.4,429.94 791.4,429.5 792.4,429.05 793.4,428.6 794.4,428.14 795.4,427.68 796.4,427.22 797.4,426.76 798.4,426.29 799.4,425.83 800.4,425.37 801.4,424.9 802.4,424.44 803.4,423.98 804.4,423.53 805.4,423.08 806.4,422.64 807.4,422.2 808.4,421.76 809.4,421.33 810.3,420.91 811.3,420.49 812.3,420.07 813.3,419.66 814.3,419.25 815.3,418.84 816.3,418.44 817.3,418.04 818.3,417.63 819.3,417.24 820.3,416.84 821.3,416.44 822.3,416.05 823.3,415.65 824.3,415.26 825.3,414.86 826.3,414.47 827.3,414.08 828.3,413.69 829.3,413.3 830.3,412.9 831.3,412.51 832.3,412.12 833.3,411.72 834.3,411.32 835.1,410.92 836.1,410.51 837.1,410.11 838.1,409.7 839.1,409.29 840.1,408.88 841.1,408.48 842.1,408.09 843.1,407.71 844.1,407.34 845.1,406.99 846.1,406.65 847.1,406.34 848.1,406.06 849.1,405.8 850.1,405.59 851.1,405.42 852.1,405.31 853.1,405.26 854.1,405.27 855.1,405.36 856.1,405.51 857.1,405.73 858.1,405.99 859.1,406.31 860.1,406.65 860.7,407 860.7,407" fill="none" stroke="#f23a24" stroke-width="1.0" stroke-linejoin="round" />
<line x1="764.8" y1="386.7" x2="796.1" y2="386.7" stroke="#1e1e1e" stroke-width="1.5" />
<line x1="764.8" y1="401.9" x2="796.1" y2="401.9" stroke="#f23a24" stroke-width="1.5" />
<text x="799.8" y="390.3" font-size="13" text-anchor="start" font-family="'Liberation Serif', 'Noto Serif CJK SC', serif" >正向激励</text>
<text x="799.8" y="405.6" font-size="13" text-anchor="start" font-family="'Liberation Serif', 'Noto Serif CJK SC', serif" >反向激励</text>
<text x="835.9" y="424.2" font-size="14" text-anchor="start" font-family="'Liberation Serif', 'Times New Roman', serif" >×20</text>
<line x1="649.8" y1="482.3" x2="649.8" y2="471.7" stroke="#222" stroke-width="1.1" />
<polygon points="649.8,468.5 648.2,472.5 651.4,472.5" fill="#222"/>
<text x="645.2" y="496.7" font-size="14" font-family="'Liberation Serif', 'Times New Roman', serif" text-anchor="start"><tspan font-style="italic">T</tspan><tspan font-size="8" dy="1">P</tspan><tspan dy="-1"></tspan></text>
<line x1="833.8" y1="540.6" x2="833.8" y2="530" stroke="#222" stroke-width="1.1" />
<polygon points="833.8,526.8 832.2,530.8 835.4,530.8" fill="#222"/>
<text x="828.6" y="551.2" font-size="14" font-family="'Liberation Serif', 'Times New Roman', serif" text-anchor="start"><tspan font-style="italic">T</tspan><tspan font-size="8" dy="1">S</tspan><tspan dy="-1"></tspan></text>
<line x1="684.9" y1="509.6" x2="697.26" y2="500.55" stroke="#000" stroke-width="3.8" />
<polygon points="701.3,497.6 698.87,503.59 694.85,498.1" fill="#000"/>
<text transform="translate(607.2,468.5) rotate(-90)" font-size="14" text-anchor="middle" font-family="'Liberation Serif', 'Noto Serif CJK SC', serif">位移/<tspan font-weight="bold">(10</tspan><tspan font-size="9" dy="-5">-5</tspan><tspan dy="5" font-weight="bold"> m)</tspan></text>
</svg>
</body></html>
